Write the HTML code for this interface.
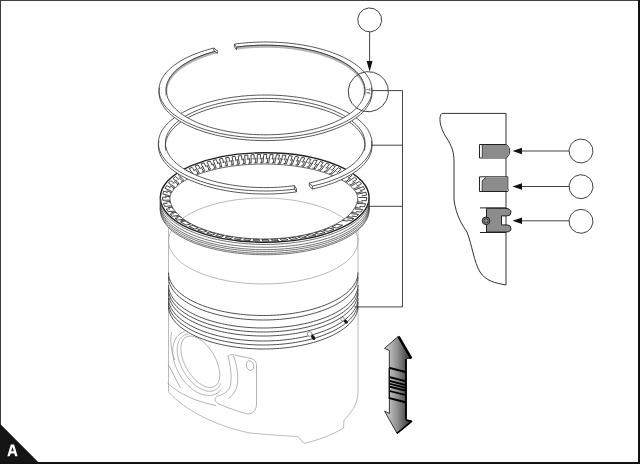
<!DOCTYPE html>
<html><head><meta charset="utf-8">
<style>
html,body{margin:0;padding:0;background:#fff;}
body{width:640px;height:464px;overflow:hidden;position:relative;font-family:"Liberation Sans",sans-serif;}
svg{position:absolute;left:0;top:0;}
</style></head><body>
<svg width="640" height="464" viewBox="0 0 640 464">
<defs>
<linearGradient id="ag" x1="0" y1="0" x2="1" y2="0">
<stop offset="0" stop-color="#d8d8d8"/><stop offset="0.5" stop-color="#8a8a8a"/><stop offset="1" stop-color="#2a2a2a"/>
</linearGradient>
</defs>
<rect x="0" y="0" width="640" height="464" fill="#fff"/>

<g fill="none" stroke="#a8a8a8" stroke-width="0.8">
<ellipse cx="263.25" cy="241" rx="94.75" ry="43"/>
<path d="M168.5,215 L168.5,392"/>
<path d="M358.0,215 L358.0,392 C358.0,405 350,414 344,420 L343.5,428 C330,436 318,440 304,443.5 L298,436.5 C290,436 270,435 250,433 C215,426 185,410 168.5,392"/>
</g>
<g fill="none" stroke="#a0a0a0" stroke-width="0.8">
<path d="M214.72,386.38 L213.53,386.95 L212.24,387.34 L210.86,387.52 L209.40,387.51 L207.87,387.31 L206.28,386.91 L204.64,386.32 L202.98,385.54 L201.29,384.58 L199.59,383.45 L197.90,382.16 L196.23,380.71 L194.59,379.11 L192.99,377.39 L191.45,375.54 L189.98,373.59 L188.58,371.55 L187.28,369.44 L186.07,367.27 L184.97,365.06 L183.99,362.82 L183.13,360.57 L182.40,358.34 L181.81,356.13 L181.36,353.96 L181.05,351.85 L180.89,349.82 L180.88,347.88 L181.02,346.05 L181.30,344.33 L181.73,342.75 L182.29,341.31 L183.00,340.03 L183.84,338.92 L184.80,337.98 L185.88,337.22 L187.07,336.65 L188.36,336.26 L189.74,336.08 L191.20,336.09 L192.73,336.29 L194.32,336.69 L195.96,337.28 L197.62,338.06 L199.31,339.02 L201.01,340.15 L202.70,341.44 L204.37,342.89 L206.01,344.49 L207.61,346.21 L209.15,348.06 L210.62,350.01 L212.02,352.05 L213.32,354.16 L214.53,356.33 L215.63,358.54 L216.61,360.78 L217.47,363.03 L218.20,365.26 L218.79,367.47 L219.24,369.64 L219.55,371.75 L219.71,373.78 L219.72,375.72 L219.58,377.55 L219.30,379.27 L218.87,380.85 L218.31,382.29 L217.60,383.57 L216.76,384.68 L215.80,385.62 L214.72,386.38 Z"/>
<path d="M220.68,383.33 L220.16,384.56 L219.55,385.69 L218.86,386.73 L218.10,387.68 L217.25,388.52 L216.34,389.25 L215.36,389.87 L214.31,390.39 L213.20,390.79 L212.04,391.07 L210.82,391.24 L209.56,391.29 L208.26,391.22 L206.92,391.04 L205.56,390.73 L204.16,390.32 L202.75,389.79 L201.33,389.15 L199.90,388.40 L198.47,387.54 L197.04,386.58 L195.63,385.53 L194.23,384.38 L192.85,383.14 L191.50,381.82 L190.18,380.42 L188.90,378.94 L187.67,377.40 L186.48,375.80 L185.35,374.14 L184.28,372.44 L183.27,370.70 L182.32,368.92 L181.45,367.12 L180.65,365.30 L179.93,363.46 L179.29,361.63 L178.73,359.80 L178.26,357.98 L177.87,356.18 L177.58,354.40 L177.37,352.66 L177.25,350.96 L177.23,349.31 L177.30,347.71 L177.46,346.17 L177.71,344.70 L178.05,343.30 L178.48,341.98 L178.99,340.75 L179.59,339.61 L180.27,338.56 L181.03,337.60 L181.87,336.76 L182.77,336.01 L183.75,335.38 L184.79,334.85 L185.90,334.45 L187.06,334.15 L188.27,333.97"/>
<path d="M221.13,389.41 L220.25,390.49 L219.29,391.46 L218.26,392.34 L217.16,393.11 L215.99,393.78 L214.77,394.34 L213.49,394.79 L212.16,395.12 L210.78,395.35 L209.36,395.45 L207.90,395.45 L206.41,395.32 L204.90,395.09 L203.36,394.74 L201.81,394.28 L200.25,393.71 L198.68,393.03 L197.11,392.24 L195.56,391.35 L194.01,390.36 L192.48,389.27 L190.98,388.09 L189.50,386.83 L188.06,385.48 L186.65,384.05 L185.29,382.54 L183.98,380.97 L182.72,379.33 L181.52,377.64 L180.38,375.89 L179.31,374.10 L178.31,372.27 L177.38,370.41 L176.53,368.52 L175.76,366.62 L175.07,364.70 L174.47,362.78 L173.95,360.85 L173.52,358.94 L173.18,357.04 L172.94,355.17 L172.79,353.32 L172.73,351.51 L172.76,349.73 L172.89,348.01 L173.11,346.34 L173.42,344.73 L173.82,343.19 L174.32,341.72 L174.90,340.32 L175.56,339.00 L176.31,337.78 L177.14,336.64 L178.05,335.59 L179.03,334.65 L180.08,333.80 L181.20,333.06 L182.39,332.43 L183.63,331.91 L184.93,331.49"/>
<path d="M228,356 C230,354 234,354.5 237,355.5 L251,358.5 C255,359.5 256.5,362 256.5,366 L256.5,404 C256.5,410 253,414 247.5,414 C240,412 228,408 219,404 C214,402 214,397 218,396 C224,394 229,392 230.5,385 C232,375 230.5,365 228,356 Z"/>
<path d="M233.5,355.5 C236.5,364 238.5,374 237.5,383 C236.5,391 232,396 228.5,398.5"/>
<ellipse cx="250" cy="365.6" rx="3.6" ry="4.9" transform="rotate(-15 250 365.6)"/>
<path d="M167.5,383 C180,395 198,402 216,405.5"/>
<path d="M168,364 C172,371 176,380 180.5,388"/>
<path d="M171.5,332 C170,342 171,352 175,360"/>
</g>
<g fill="none" stroke="#303030" stroke-width="0.85">
<path d="M358.00,272.50 L357.94,274.00 L357.77,275.50 L357.48,276.99 L357.08,278.48 L356.56,279.97 L355.93,281.44 L355.19,282.90 L354.33,284.35 L353.36,285.79 L352.29,287.21 L351.10,288.61 L349.81,289.99 L348.41,291.35 L346.91,292.69 L345.31,294.00 L343.60,295.29 L341.80,296.55 L339.90,297.77 L337.91,298.97 L335.83,300.14 L333.66,301.27 L331.41,302.37 L329.07,303.43 L326.65,304.46 L324.15,305.44 L321.58,306.38 L318.94,307.29 L316.23,308.15 L313.46,308.97 L310.62,309.74 L307.73,310.47 L304.79,311.15 L301.79,311.78 L298.74,312.37 L295.66,312.91 L292.53,313.40 L289.37,313.83 L286.17,314.22 L282.95,314.56 L279.70,314.85 L276.44,315.08 L273.15,315.26 L269.86,315.40 L266.56,315.47 L263.25,315.50 L259.94,315.47 L256.64,315.40 L253.35,315.26 L250.06,315.08 L246.80,314.85 L243.55,314.56 L240.33,314.22 L237.13,313.83 L233.97,313.40 L230.84,312.91 L227.76,312.37 L224.71,311.78 L221.71,311.15 L218.77,310.47 L215.88,309.74 L213.04,308.97 L210.27,308.15 L207.56,307.29 L204.92,306.38 L202.35,305.44 L199.85,304.46 L197.43,303.43 L195.09,302.37 L192.84,301.27 L190.67,300.14 L188.59,298.97 L186.60,297.77 L184.70,296.55 L182.90,295.29 L181.19,294.00 L179.59,292.69 L178.09,291.35 L176.69,289.99 L175.40,288.61 L174.21,287.21 L173.14,285.79 L172.17,284.35 L171.31,282.90 L170.57,281.44 L169.94,279.97 L169.42,278.48 L169.02,276.99 L168.73,275.50 L168.56,274.00 L168.50,272.50"/>
<path d="M358.00,277.00 L357.94,278.50 L357.77,280.00 L357.48,281.49 L357.08,282.98 L356.56,284.47 L355.93,285.94 L355.19,287.40 L354.33,288.85 L353.36,290.29 L352.29,291.71 L351.10,293.11 L349.81,294.49 L348.41,295.85 L346.91,297.19 L345.31,298.50 L343.60,299.79 L341.80,301.05 L339.90,302.27 L337.91,303.47 L335.83,304.64 L333.66,305.77 L331.41,306.87 L329.07,307.93 L326.65,308.96 L324.15,309.94 L321.58,310.88 L318.94,311.79 L316.23,312.65 L313.46,313.47 L310.62,314.24 L307.73,314.97 L304.79,315.65 L301.79,316.28 L298.74,316.87 L295.66,317.41 L292.53,317.90 L289.37,318.33 L286.17,318.72 L282.95,319.06 L279.70,319.35 L276.44,319.58 L273.15,319.76 L269.86,319.90 L266.56,319.97 L263.25,320.00 L259.94,319.97 L256.64,319.90 L253.35,319.76 L250.06,319.58 L246.80,319.35 L243.55,319.06 L240.33,318.72 L237.13,318.33 L233.97,317.90 L230.84,317.41 L227.76,316.87 L224.71,316.28 L221.71,315.65 L218.77,314.97 L215.88,314.24 L213.04,313.47 L210.27,312.65 L207.56,311.79 L204.92,310.88 L202.35,309.94 L199.85,308.96 L197.43,307.93 L195.09,306.87 L192.84,305.77 L190.67,304.64 L188.59,303.47 L186.60,302.27 L184.70,301.05 L182.90,299.79 L181.19,298.50 L179.59,297.19 L178.09,295.85 L176.69,294.49 L175.40,293.11 L174.21,291.71 L173.14,290.29 L172.17,288.85 L171.31,287.40 L170.57,285.94 L169.94,284.47 L169.42,282.98 L169.02,281.49 L168.73,280.00 L168.56,278.50 L168.50,277.00"/>
<path d="M358.00,285.00 L357.94,286.50 L357.77,288.00 L357.48,289.49 L357.08,290.98 L356.56,292.47 L355.93,293.94 L355.19,295.40 L354.33,296.85 L353.36,298.29 L352.29,299.71 L351.10,301.11 L349.81,302.49 L348.41,303.85 L346.91,305.19 L345.31,306.50 L343.60,307.79 L341.80,309.05 L339.90,310.27 L337.91,311.47 L335.83,312.64 L333.66,313.77 L331.41,314.87 L329.07,315.93 L326.65,316.96 L324.15,317.94 L321.58,318.88 L318.94,319.79 L316.23,320.65 L313.46,321.47 L310.62,322.24 L307.73,322.97 L304.79,323.65 L301.79,324.28 L298.74,324.87 L295.66,325.41 L292.53,325.90 L289.37,326.33 L286.17,326.72 L282.95,327.06 L279.70,327.35 L276.44,327.58 L273.15,327.76 L269.86,327.90 L266.56,327.97 L263.25,328.00 L259.94,327.97 L256.64,327.90 L253.35,327.76 L250.06,327.58 L246.80,327.35 L243.55,327.06 L240.33,326.72 L237.13,326.33 L233.97,325.90 L230.84,325.41 L227.76,324.87 L224.71,324.28 L221.71,323.65 L218.77,322.97 L215.88,322.24 L213.04,321.47 L210.27,320.65 L207.56,319.79 L204.92,318.88 L202.35,317.94 L199.85,316.96 L197.43,315.93 L195.09,314.87 L192.84,313.77 L190.67,312.64 L188.59,311.47 L186.60,310.27 L184.70,309.05 L182.90,307.79 L181.19,306.50 L179.59,305.19 L178.09,303.85 L176.69,302.49 L175.40,301.11 L174.21,299.71 L173.14,298.29 L172.17,296.85 L171.31,295.40 L170.57,293.94 L169.94,292.47 L169.42,290.98 L169.02,289.49 L168.73,288.00 L168.56,286.50 L168.50,285.00"/>
<path d="M358.00,289.00 L357.94,290.50 L357.77,292.00 L357.48,293.49 L357.08,294.98 L356.56,296.47 L355.93,297.94 L355.19,299.40 L354.33,300.85 L353.36,302.29 L352.29,303.71 L351.10,305.11 L349.81,306.49 L348.41,307.85 L346.91,309.19 L345.31,310.50 L343.60,311.79 L341.80,313.05 L339.90,314.27 L337.91,315.47 L335.83,316.64 L333.66,317.77 L331.41,318.87 L329.07,319.93 L326.65,320.96 L324.15,321.94 L321.58,322.88 L318.94,323.79 L316.23,324.65 L313.46,325.47 L310.62,326.24 L307.73,326.97 L304.79,327.65 L301.79,328.28 L298.74,328.87 L295.66,329.41 L292.53,329.90 L289.37,330.33 L286.17,330.72 L282.95,331.06 L279.70,331.35 L276.44,331.58 L273.15,331.76 L269.86,331.90 L266.56,331.97 L263.25,332.00 L259.94,331.97 L256.64,331.90 L253.35,331.76 L250.06,331.58 L246.80,331.35 L243.55,331.06 L240.33,330.72 L237.13,330.33 L233.97,329.90 L230.84,329.41 L227.76,328.87 L224.71,328.28 L221.71,327.65 L218.77,326.97 L215.88,326.24 L213.04,325.47 L210.27,324.65 L207.56,323.79 L204.92,322.88 L202.35,321.94 L199.85,320.96 L197.43,319.93 L195.09,318.87 L192.84,317.77 L190.67,316.64 L188.59,315.47 L186.60,314.27 L184.70,313.05 L182.90,311.79 L181.19,310.50 L179.59,309.19 L178.09,307.85 L176.69,306.49 L175.40,305.11 L174.21,303.71 L173.14,302.29 L172.17,300.85 L171.31,299.40 L170.57,297.94 L169.94,296.47 L169.42,294.98 L169.02,293.49 L168.73,292.00 L168.56,290.50 L168.50,289.00"/>
<path d="M358.00,293.00 L357.94,294.50 L357.77,296.00 L357.48,297.49 L357.08,298.98 L356.56,300.47 L355.93,301.94 L355.19,303.40 L354.33,304.85 L353.36,306.29 L352.29,307.71 L351.10,309.11 L349.81,310.49 L348.41,311.85 L346.91,313.19 L345.31,314.50 L343.60,315.79 L341.80,317.05 L339.90,318.27 L337.91,319.47 L335.83,320.64 L333.66,321.77 L331.41,322.87 L329.07,323.93 L326.65,324.96 L324.15,325.94 L321.58,326.88 L318.94,327.79 L316.23,328.65 L313.46,329.47 L310.62,330.24 L307.73,330.97 L304.79,331.65 L301.79,332.28 L298.74,332.87 L295.66,333.41 L292.53,333.90 L289.37,334.33 L286.17,334.72 L282.95,335.06 L279.70,335.35 L276.44,335.58 L273.15,335.76 L269.86,335.90 L266.56,335.97 L263.25,336.00 L259.94,335.97 L256.64,335.90 L253.35,335.76 L250.06,335.58 L246.80,335.35 L243.55,335.06 L240.33,334.72 L237.13,334.33 L233.97,333.90 L230.84,333.41 L227.76,332.87 L224.71,332.28 L221.71,331.65 L218.77,330.97 L215.88,330.24 L213.04,329.47 L210.27,328.65 L207.56,327.79 L204.92,326.88 L202.35,325.94 L199.85,324.96 L197.43,323.93 L195.09,322.87 L192.84,321.77 L190.67,320.64 L188.59,319.47 L186.60,318.27 L184.70,317.05 L182.90,315.79 L181.19,314.50 L179.59,313.19 L178.09,311.85 L176.69,310.49 L175.40,309.11 L174.21,307.71 L173.14,306.29 L172.17,304.85 L171.31,303.40 L170.57,301.94 L169.94,300.47 L169.42,298.98 L169.02,297.49 L168.73,296.00 L168.56,294.50 L168.50,293.00"/>
<path d="M358.00,298.00 L357.94,299.50 L357.77,301.00 L357.48,302.49 L357.08,303.98 L356.56,305.47 L355.93,306.94 L355.19,308.40 L354.33,309.85 L353.36,311.29 L352.29,312.71 L351.10,314.11 L349.81,315.49 L348.41,316.85 L346.91,318.19 L345.31,319.50 L343.60,320.79 L341.80,322.05 L339.90,323.27 L337.91,324.47 L335.83,325.64 L333.66,326.77 L331.41,327.87 L329.07,328.93 L326.65,329.96 L324.15,330.94 L321.58,331.88 L318.94,332.79 L316.23,333.65 L313.46,334.47 L310.62,335.24 L307.73,335.97 L304.79,336.65 L301.79,337.28 L298.74,337.87 L295.66,338.41 L292.53,338.90 L289.37,339.33 L286.17,339.72 L282.95,340.06 L279.70,340.35 L276.44,340.58 L273.15,340.76 L269.86,340.90 L266.56,340.97 L263.25,341.00 L259.94,340.97 L256.64,340.90 L253.35,340.76 L250.06,340.58 L246.80,340.35 L243.55,340.06 L240.33,339.72 L237.13,339.33 L233.97,338.90 L230.84,338.41 L227.76,337.87 L224.71,337.28 L221.71,336.65 L218.77,335.97 L215.88,335.24 L213.04,334.47 L210.27,333.65 L207.56,332.79 L204.92,331.88 L202.35,330.94 L199.85,329.96 L197.43,328.93 L195.09,327.87 L192.84,326.77 L190.67,325.64 L188.59,324.47 L186.60,323.27 L184.70,322.05 L182.90,320.79 L181.19,319.50 L179.59,318.19 L178.09,316.85 L176.69,315.49 L175.40,314.11 L174.21,312.71 L173.14,311.29 L172.17,309.85 L171.31,308.40 L170.57,306.94 L169.94,305.47 L169.42,303.98 L169.02,302.49 L168.73,301.00 L168.56,299.50 L168.50,298.00"/>
<path d="M358.00,302.00 L357.94,303.50 L357.77,305.00 L357.48,306.49 L357.08,307.98 L356.56,309.47 L355.93,310.94 L355.19,312.40 L354.33,313.85 L353.36,315.29 L352.29,316.71 L351.10,318.11 L349.81,319.49 L348.41,320.85 L346.91,322.19 L345.31,323.50 L343.60,324.79 L341.80,326.05 L339.90,327.27 L337.91,328.47 L335.83,329.64 L333.66,330.77 L331.41,331.87 L329.07,332.93 L326.65,333.96 L324.15,334.94 L321.58,335.88 L318.94,336.79 L316.23,337.65 L313.46,338.47 L310.62,339.24 L307.73,339.97 L304.79,340.65 L301.79,341.28 L298.74,341.87 L295.66,342.41 L292.53,342.90 L289.37,343.33 L286.17,343.72 L282.95,344.06 L279.70,344.35 L276.44,344.58 L273.15,344.76 L269.86,344.90 L266.56,344.97 L263.25,345.00 L259.94,344.97 L256.64,344.90 L253.35,344.76 L250.06,344.58 L246.80,344.35 L243.55,344.06 L240.33,343.72 L237.13,343.33 L233.97,342.90 L230.84,342.41 L227.76,341.87 L224.71,341.28 L221.71,340.65 L218.77,339.97 L215.88,339.24 L213.04,338.47 L210.27,337.65 L207.56,336.79 L204.92,335.88 L202.35,334.94 L199.85,333.96 L197.43,332.93 L195.09,331.87 L192.84,330.77 L190.67,329.64 L188.59,328.47 L186.60,327.27 L184.70,326.05 L182.90,324.79 L181.19,323.50 L179.59,322.19 L178.09,320.85 L176.69,319.49 L175.40,318.11 L174.21,316.71 L173.14,315.29 L172.17,313.85 L171.31,312.40 L170.57,310.94 L169.94,309.47 L169.42,307.98 L169.02,306.49 L168.73,305.00 L168.56,303.50 L168.50,302.00"/>
<path d="M358.00,306.00 L357.94,307.50 L357.77,309.00 L357.48,310.49 L357.08,311.98 L356.56,313.47 L355.93,314.94 L355.19,316.40 L354.33,317.85 L353.36,319.29 L352.29,320.71 L351.10,322.11 L349.81,323.49 L348.41,324.85 L346.91,326.19 L345.31,327.50 L343.60,328.79 L341.80,330.05 L339.90,331.27 L337.91,332.47 L335.83,333.64 L333.66,334.77 L331.41,335.87 L329.07,336.93 L326.65,337.96 L324.15,338.94 L321.58,339.88 L318.94,340.79 L316.23,341.65 L313.46,342.47 L310.62,343.24 L307.73,343.97 L304.79,344.65 L301.79,345.28 L298.74,345.87 L295.66,346.41 L292.53,346.90 L289.37,347.33 L286.17,347.72 L282.95,348.06 L279.70,348.35 L276.44,348.58 L273.15,348.76 L269.86,348.90 L266.56,348.97 L263.25,349.00 L259.94,348.97 L256.64,348.90 L253.35,348.76 L250.06,348.58 L246.80,348.35 L243.55,348.06 L240.33,347.72 L237.13,347.33 L233.97,346.90 L230.84,346.41 L227.76,345.87 L224.71,345.28 L221.71,344.65 L218.77,343.97 L215.88,343.24 L213.04,342.47 L210.27,341.65 L207.56,340.79 L204.92,339.88 L202.35,338.94 L199.85,337.96 L197.43,336.93 L195.09,335.87 L192.84,334.77 L190.67,333.64 L188.59,332.47 L186.60,331.27 L184.70,330.05 L182.90,328.79 L181.19,327.50 L179.59,326.19 L178.09,324.85 L176.69,323.49 L175.40,322.11 L174.21,320.71 L173.14,319.29 L172.17,317.85 L171.31,316.40 L170.57,314.94 L169.94,313.47 L169.42,311.98 L169.02,310.49 L168.73,309.00 L168.56,307.50 L168.50,306.00"/>
</g>
<ellipse cx="313.2" cy="337.4" rx="2.8" ry="1.7" transform="rotate(55 313.2 337.4)" fill="#181818"/><circle cx="309.6" cy="333.9" r="2.3" fill="#fff" stroke="#555" stroke-width="0.6"/>
<ellipse cx="345.8" cy="321.6" rx="2.4" ry="1.5" transform="rotate(45 345.8 321.6)" fill="#181818"/><circle cx="342.6" cy="319.2" r="1.8" fill="#fff" stroke="#555" stroke-width="0.6"/>
<path d="M369.10,197.50 L369.04,211.56 L368.85,213.12 L368.53,214.68 L368.08,216.23 L367.51,217.77 L366.82,219.30 L366.00,220.83 L365.06,222.33 L363.99,223.83 L362.80,225.31 L361.50,226.76 L360.07,228.20 L358.53,229.62 L356.88,231.01 L355.11,232.38 L353.24,233.71 L351.25,235.02 L349.16,236.30 L346.97,237.55 L344.68,238.76 L342.28,239.94 L339.80,241.09 L337.22,242.19 L334.56,243.26 L331.81,244.28 L328.98,245.26 L326.06,246.20 L323.08,247.10 L320.02,247.95 L316.90,248.75 L313.71,249.51 L310.47,250.22 L307.16,250.88 L303.81,251.49 L300.41,252.05 L296.96,252.56 L293.48,253.02 L289.96,253.42 L286.41,253.77 L282.83,254.07 L279.23,254.31 L275.61,254.50 L271.98,254.64 L268.34,254.72 L264.70,254.75 L261.06,254.72 L257.42,254.64 L253.79,254.50 L250.17,254.31 L246.57,254.07 L242.99,253.77 L239.44,253.42 L235.92,253.02 L232.44,252.56 L228.99,252.05 L225.59,251.49 L222.24,250.88 L218.93,250.22 L215.69,249.51 L212.50,248.75 L209.38,247.95 L206.32,247.10 L203.34,246.20 L200.42,245.26 L197.59,244.28 L194.84,243.26 L192.18,242.19 L189.60,241.09 L187.12,239.94 L184.72,238.76 L182.43,237.55 L180.24,236.30 L178.15,235.02 L176.16,233.71 L174.29,232.38 L172.52,231.01 L170.87,229.62 L169.33,228.20 L167.90,226.76 L166.60,225.31 L165.41,223.83 L164.34,222.33 L163.40,220.83 L162.58,219.30 L161.89,217.77 L161.32,216.23 L160.87,214.68 L160.55,213.12 L160.36,211.56 L160.30,210.00 L160.36,195.94 L160.55,194.38 L160.87,192.82 L161.32,191.27 L161.89,189.73 L162.58,188.20 L163.40,186.67 L164.34,185.17 L165.41,183.67 L166.60,182.19 L167.90,180.74 L169.33,179.30 L170.87,177.88 L172.52,176.49 L174.29,175.12 L176.16,173.79 L178.15,172.48 L180.24,171.20 L182.43,169.95 L184.72,168.74 L187.12,167.56 L189.60,166.41 L192.18,165.31 L194.84,164.24 L197.59,163.22 L200.42,162.24 L203.34,161.30 L206.32,160.40 L209.38,159.55 L212.50,158.75 L215.69,157.99 L218.93,157.28 L222.24,156.62 L225.59,156.01 L228.99,155.45 L232.44,154.94 L235.92,154.48 L239.44,154.08 L242.99,153.73 L246.57,153.43 L250.17,153.19 L253.79,153.00 L257.42,152.86 L261.06,152.78 L264.70,152.75 L268.34,152.78 L271.98,152.86 L275.61,153.00 L279.23,153.19 L282.83,153.43 L286.41,153.73 L289.96,154.08 L293.48,154.48 L296.96,154.94 L300.41,155.45 L303.81,156.01 L307.16,156.62 L310.47,157.28 L313.71,157.99 L316.90,158.75 L320.02,159.55 L323.08,160.40 L326.06,161.30 L328.98,162.24 L331.81,163.22 L334.56,164.24 L337.22,165.31 L339.80,166.41 L342.28,167.56 L344.68,168.74 L346.97,169.95 L349.16,171.20 L351.25,172.48 L353.24,173.79 L355.11,175.12 L356.88,176.49 L358.53,177.88 L360.07,179.30 L361.50,180.74 L362.80,182.19 L363.99,183.67 L365.06,185.17 L366.00,186.67 L366.82,188.20 L367.51,189.73 L368.08,191.27 L368.53,192.82 L368.85,194.38 L369.04,195.94 L369.10,197.50 Z M357.70,197.50 L357.64,197.12 L357.47,196.22 L357.19,195.23 L356.79,194.17 L356.27,193.09 L355.65,191.99 L354.91,190.87 L354.06,189.75 L353.10,188.63 L352.04,187.51 L350.86,186.39 L349.58,185.28 L348.20,184.19 L346.71,183.10 L345.12,182.03 L343.43,180.97 L341.65,179.94 L339.77,178.92 L337.79,177.93 L335.73,176.96 L333.58,176.02 L331.35,175.10 L329.03,174.21 L326.63,173.35 L324.16,172.53 L321.61,171.73 L318.99,170.97 L316.31,170.24 L313.56,169.55 L310.75,168.90 L307.88,168.28 L304.96,167.70 L301.99,167.17 L298.98,166.67 L295.92,166.21 L292.82,165.79 L289.68,165.42 L286.52,165.09 L283.32,164.80 L280.11,164.56 L276.87,164.36 L273.62,164.20 L270.35,164.09 L267.08,164.02 L263.80,164.00 L260.52,164.02 L257.25,164.09 L253.98,164.20 L250.73,164.36 L247.49,164.56 L244.28,164.80 L241.08,165.09 L237.92,165.42 L234.78,165.79 L231.68,166.21 L228.62,166.67 L225.61,167.17 L222.64,167.70 L219.72,168.28 L216.85,168.90 L214.04,169.55 L211.29,170.24 L208.61,170.97 L205.99,171.73 L203.44,172.53 L200.97,173.35 L198.57,174.21 L196.25,175.10 L194.02,176.02 L191.87,176.96 L189.81,177.93 L187.83,178.92 L185.95,179.94 L184.17,180.97 L182.48,182.03 L180.89,183.10 L179.40,184.19 L178.02,185.28 L176.74,186.39 L175.56,187.51 L174.50,188.63 L173.54,189.75 L172.69,190.87 L171.95,191.99 L171.33,193.09 L170.81,194.17 L170.41,195.23 L170.13,196.22 L169.96,197.12 L169.90,197.50 L169.96,198.95 L170.13,200.39 L170.41,201.84 L170.81,203.28 L171.33,204.71 L171.95,206.13 L172.69,207.54 L173.54,208.94 L174.50,210.32 L175.56,211.69 L176.74,213.05 L178.02,214.38 L179.40,215.69 L180.89,216.98 L182.48,218.25 L184.17,219.49 L185.95,220.71 L187.83,221.89 L189.81,223.05 L191.87,224.18 L194.02,225.27 L196.25,226.33 L198.57,227.35 L200.97,228.34 L203.44,229.29 L205.99,230.20 L208.61,231.07 L211.29,231.91 L214.04,232.69 L216.85,233.44 L219.72,234.14 L222.64,234.80 L225.61,235.41 L228.62,235.98 L231.68,236.50 L234.78,236.97 L237.92,237.39 L241.08,237.77 L244.28,238.09 L247.49,238.37 L250.73,238.60 L253.98,238.77 L257.25,238.90 L260.52,238.97 L263.80,239.00 L267.08,238.97 L270.35,238.90 L273.62,238.77 L276.87,238.60 L280.11,238.37 L283.32,238.09 L286.52,237.77 L289.68,237.39 L292.82,236.97 L295.92,236.50 L298.98,235.98 L301.99,235.41 L304.96,234.80 L307.88,234.14 L310.75,233.44 L313.56,232.69 L316.31,231.91 L318.99,231.07 L321.61,230.20 L324.16,229.29 L326.63,228.34 L329.03,227.35 L331.35,226.33 L333.58,225.27 L335.73,224.18 L337.79,223.05 L339.77,221.89 L341.65,220.71 L343.43,219.49 L345.12,218.25 L346.71,216.98 L348.20,215.69 L349.58,214.38 L350.86,213.05 L352.04,211.69 L353.10,210.32 L354.06,208.94 L354.91,207.54 L355.65,206.13 L356.27,204.71 L356.79,203.28 L357.19,201.84 L357.47,200.39 L357.64,198.95 L357.70,197.50 Z" fill="#fff" fill-rule="evenodd" stroke="none"/>
<path d="M358.47,197.50 L366.74,197.50 L366.47,200.69 L361.54,200.62 M358.22,200.57 L357.49,203.53 M357.91,202.05 L363.11,202.17 M357.49,203.53 L365.68,203.78 L364.42,206.74 L359.58,206.53 M356.32,206.38 L354.83,209.02 M355.62,207.71 L360.71,207.97 M354.83,209.02 L362.80,209.49 L360.92,212.01 L356.23,211.67 M353.08,211.44 L351.08,213.74 M352.12,212.60 L357.03,212.98 M351.08,213.74 L358.76,214.39 L356.47,216.56 L351.98,216.11 M348.96,215.81 L346.67,217.76 M347.84,216.79 L352.54,217.29 M346.67,217.76 L354.01,218.58 L351.41,220.47 L347.14,219.94 M344.27,219.58 L341.78,221.27 M343.05,220.43 L347.50,221.02 M342.64,225.27 L336.94,227.97 L331.67,226.95 L337.01,224.34 Z M334.05,229.18 L328.12,231.39 L323.40,230.25 L328.96,228.11 Z M325.09,232.39 L318.96,234.19 L314.83,232.96 L320.57,231.21 Z M315.87,235.00 L309.89,236.38 L306.34,235.08 L311.94,233.74 Z M306.63,237.05 L300.55,238.14 L297.58,236.77 L303.28,235.72 Z M297.35,238.63 L291.04,239.45 L288.69,238.04 L294.59,237.25 Z M287.95,239.79 L281.70,240.33 L279.94,238.89 L285.79,238.37 Z M278.55,240.54 L272.21,240.83 L271.05,239.38 L276.99,239.09 Z M269.03,240.92 L262.65,240.95 L262.10,239.49 L268.07,239.45 Z M259.46,240.90 L253.32,240.69 L253.36,239.24 L259.11,239.44 Z M250.16,240.52 L243.88,240.05 L244.52,238.61 L250.40,239.07 Z M240.56,239.72 L234.41,239.00 L235.65,237.60 L241.41,238.30 Z M231.18,238.54 L225.03,237.53 L226.87,236.18 L232.63,237.16 Z M221.92,236.94 L215.66,235.58 L218.09,234.30 L223.96,235.61 Z M212.71,234.86 L206.63,233.19 L209.64,231.98 L215.33,233.60 Z M203.53,232.22 L197.59,230.16 L201.18,229.06 L206.73,231.06 Z M194.61,228.99 L188.84,226.44 L192.98,225.47 L198.38,227.93 Z M186.08,225.06 L180.49,221.85 L185.16,221.03 L190.39,224.13 Z M185.47,220.98 L183.00,219.28 M184.21,220.13 L180.73,220.71 M183.00,219.28 L177.40,220.16 L174.94,218.34 L178.40,217.86 M180.73,217.53 L178.39,215.50 M179.53,216.52 L175.81,217.01 M178.39,215.50 L172.42,216.23 L170.17,214.06 L173.84,213.67 M176.30,213.41 L174.35,211.11 M175.29,212.27 L171.36,212.65 M174.35,211.11 L168.06,211.66 L166.22,209.14 L170.06,208.86 M172.65,208.68 L171.16,205.95 M171.85,207.32 L167.75,207.57 M171.16,205.95 L164.62,206.30 L163.46,203.42 L167.42,203.28 M170.09,203.19 L169.40,200.13 M169.68,201.66 L165.47,201.77 M169.40,200.13 L162.72,200.24 L162.52,197.17 L166.52,197.40 M169.22,197.55 L169.53,195.67 M169.31,196.72 L165.08,196.03 M169.53,195.67 L162.86,194.08 L163.71,191.05 L167.66,192.47 M170.32,193.42 L171.49,191.22 M170.85,192.33 L166.70,190.63 M171.49,191.22 L164.98,188.23 L166.63,185.53 L170.45,187.64 M173.03,189.05 L174.81,187.03 M173.88,188.04 L169.88,185.66 M174.81,187.03 L168.55,183.05 L170.75,180.70 L174.39,183.32 M176.84,185.09 L179.00,183.32 M177.89,184.20 L174.09,181.31 M179.00,183.32 L173.07,178.57 L175.56,176.57 L178.99,179.60 M181.30,181.65 L183.73,180.08 M182.49,180.86 L178.92,177.55 M183.73,180.08 L178.18,174.71 L180.78,173.05 L183.98,176.41 M186.14,178.68 L188.71,177.31 M187.40,177.99 L184.08,174.35 M188.71,177.31 L183.55,171.44 L186.36,169.96 L189.32,173.60 M191.31,176.05 L193.92,174.89 M192.60,175.47 L189.53,171.55 M193.92,174.89 L189.17,168.60 L192.12,167.29 L194.83,171.16 M196.65,173.77 L199.36,172.75 M197.99,173.25 L195.19,169.10 M199.36,172.75 L195.04,166.09 L198.07,164.95 L200.51,169.02 M202.16,171.76 L204.91,170.87 M203.53,171.31 L201.01,166.96 M204.91,170.87 L201.03,163.91 L204.09,162.92 L206.27,167.16 M207.74,170.02 L210.49,169.25 M209.11,169.63 L206.87,165.10 M210.49,169.25 L207.06,162.03 L210.28,161.14 L212.19,165.53 M213.47,168.48 L216.19,167.83 M214.82,168.15 L212.87,163.48 M216.19,167.83 L213.20,160.39 L216.37,159.64 L218.02,164.15 M219.13,167.18 L221.95,166.61 M220.53,166.89 L218.86,162.09 M221.95,166.61 L219.42,158.97 L222.51,158.35 L223.89,162.97 M224.81,166.07 L227.72,165.57 M226.26,165.82 L224.88,160.91 M227.72,165.57 L225.65,157.78 L228.83,157.25 L229.93,161.95 M230.67,165.11 L233.66,164.69 M232.16,164.90 L231.07,159.90 M233.66,164.69 L232.06,156.76 L235.11,156.35 L235.94,161.12 M236.49,164.33 L239.35,164.01 M237.92,164.17 L237.12,159.10 M239.35,164.01 L238.20,155.98 L241.52,155.63 L242.06,160.45 M242.43,163.70 L245.34,163.45 M243.88,163.57 L243.38,158.46 M245.34,163.45 L244.65,155.34 L247.81,155.10 L248.08,159.96 M248.26,163.24 L251.20,163.06 M249.73,163.15 L249.52,157.99 M251.20,163.06 L250.98,154.89 L254.17,154.73 L254.16,159.63 M254.15,162.93 L257.11,162.82 M255.63,162.87 L255.71,157.69 M257.11,162.82 L257.36,154.62 L260.57,154.54 L260.28,159.45 M260.08,162.76 L263.05,162.73 M261.57,162.74 L261.95,157.54 M263.05,162.73 L263.77,154.51 L266.77,154.52 L266.20,159.43 M265.83,162.74 L268.80,162.78 M267.31,162.75 L267.98,157.56 M268.80,162.78 L269.97,154.57 L273.17,154.66 L272.33,159.56 M271.76,162.86 L274.72,162.98 M273.24,162.91 L274.21,157.73 M274.72,162.98 L276.36,154.79 L279.54,154.97 L278.42,159.85 M277.67,163.13 L280.60,163.32 M279.14,163.22 L280.40,158.07 M280.60,163.32 L282.71,155.19 L285.86,155.45 L284.46,160.29 M283.52,163.55 L286.42,163.81 M284.97,163.68 L286.52,158.57 M286.42,163.81 L288.99,155.75 L292.29,156.12 L290.61,160.91 M289.48,164.13 L292.33,164.47 M290.91,164.30 L292.76,159.25 M292.33,164.47 L295.37,156.51 L298.61,156.97 L296.66,161.69 M295.34,164.87 L298.13,165.28 M296.74,165.07 L298.88,160.10 M298.13,165.28 L301.62,157.44 L304.79,157.99 L302.56,162.63 M301.06,165.75 L303.96,166.27 M302.52,166.01 L304.94,161.12 M303.96,166.27 L307.91,158.58 L310.99,159.22 L308.49,163.76 M306.81,166.82 L309.78,167.44 M308.30,167.13 L311.02,162.35 M309.78,167.44 L314.20,159.94 L317.16,160.66 L314.39,165.09 M312.53,168.07 L315.38,168.77 M313.96,168.42 L316.96,163.77 M315.38,168.77 L320.24,161.48 L323.26,162.34 L320.22,166.63 M318.18,169.52 L321.06,170.34 M319.63,169.92 L322.91,165.43 M321.06,170.34 L326.36,163.30 L329.39,164.31 L326.08,168.43 M323.86,171.21 L326.57,172.12 M325.23,171.66 L328.79,167.34 M326.57,172.12 L332.32,165.36 L335.30,166.53 L331.74,170.47 M329.34,173.12 L332.01,174.16 M330.69,173.63 L334.52,169.52 M332.01,174.16 L338.18,167.74 L341.08,169.07 L337.27,172.79 M334.70,175.29 L337.39,176.53 M336.06,175.91 L340.16,172.04 M337.39,176.53 L343.98,170.52 L346.73,172.02 L342.67,175.48 M339.93,177.81 L342.44,179.18 M341.21,178.49 L345.57,174.91 M342.44,179.18 L349.44,173.65 L352.08,175.40 L347.78,178.55 M344.89,180.66 L347.24,182.25 M346.09,181.45 L350.70,178.22 M347.24,182.25 L354.62,177.28 L357.02,179.30 L352.51,182.07 M349.47,183.93 L351.61,185.78 M350.57,184.85 L355.40,182.04 M351.61,185.78 L359.33,181.53 L361.41,183.90 L356.70,186.19 M353.53,187.73 L355.25,189.82 M354.44,188.77 L359.46,186.50 M355.25,189.82 L363.26,186.48 L364.77,189.20 L359.91,190.86 M356.65,191.98 L357.70,194.23 M357.23,193.12 L362.39,191.56 M357.70,194.23 L365.91,192.12 L366.58,195.14 L361.64,195.90" fill="none" stroke="#333" stroke-width="0.9"/>
<path d="M165.75,197.50 L165.81,196.51 L165.99,195.28 L166.29,194.00 L166.71,192.70 L167.25,191.38 L167.90,190.07 L168.68,188.75 L169.57,187.44 L170.57,186.14 L171.69,184.84 L172.92,183.56 L174.27,182.29 L175.72,181.03 L177.28,179.80 L178.95,178.59 L180.72,177.39 L182.59,176.23 L184.56,175.08 L186.63,173.97 L188.79,172.88 L191.05,171.82 L193.40,170.80 L195.83,169.81 L198.34,168.85 L200.94,167.93 L203.61,167.04 L206.35,166.20 L209.17,165.39 L212.05,164.62 L215.00,163.90 L218.01,163.21 L221.07,162.57 L224.19,161.98 L227.35,161.42 L230.56,160.92 L233.81,160.46 L237.10,160.04 L240.42,159.68 L243.77,159.36 L247.15,159.09 L250.54,158.87 L253.95,158.70 L257.38,158.57 L260.81,158.50 L264.25,158.47 L267.69,158.50 L271.12,158.57 L274.55,158.70 L277.96,158.87 L281.35,159.09 L284.73,159.36 L288.08,159.68 L291.40,160.04 L294.69,160.46 L297.94,160.92 L301.15,161.42 L304.31,161.98 L307.43,162.57 L310.49,163.21 L313.50,163.90 L316.45,164.62 L319.33,165.39 L322.15,166.20 L324.89,167.04 L327.56,167.93 L330.16,168.85 L332.67,169.81 L335.10,170.80 L337.45,171.82 L339.71,172.88 L341.87,173.97 L343.94,175.08 L345.91,176.23 L347.78,177.39 L349.55,178.59 L351.22,179.80 L352.78,181.03 L354.23,182.29 L355.58,183.56 L356.81,184.84 L357.93,186.14 L358.93,187.44 L359.82,188.75 L360.60,190.07 L361.25,191.38 L361.79,192.70 L362.21,194.00 L362.51,195.28 L362.69,196.51 L362.75,197.50" fill="none" stroke="#555" stroke-width="0.7" stroke-dasharray="2 3" stroke-dashoffset="0"/>
<g fill="none" stroke="#3a3a3a" stroke-width="0.8">
<ellipse cx="264.7" cy="197.5" rx="104.4" ry="44.75" stroke-width="1.4" stroke="#222"/>
<path d="M357.70,197.50 L357.64,198.95 L357.47,200.39 L357.19,201.84 L356.79,203.28 L356.27,204.71 L355.65,206.13 L354.91,207.54 L354.06,208.94 L353.10,210.32 L352.04,211.69 L350.86,213.05 L349.58,214.38 L348.20,215.69 L346.71,216.98 L345.12,218.25 L343.43,219.49 L341.65,220.71 L339.77,221.89 L337.79,223.05 L335.73,224.18 L333.58,225.27 L331.35,226.33 L329.03,227.35 L326.63,228.34 L324.16,229.29 L321.61,230.20 L318.99,231.07 L316.31,231.91 L313.56,232.69 L310.75,233.44 L307.88,234.14 L304.96,234.80 L301.99,235.41 L298.98,235.98 L295.92,236.50 L292.82,236.97 L289.68,237.39 L286.52,237.77 L283.32,238.09 L280.11,238.37 L276.87,238.60 L273.62,238.77 L270.35,238.90 L267.08,238.97 L263.80,239.00 L260.52,238.97 L257.25,238.90 L253.98,238.77 L250.73,238.60 L247.49,238.37 L244.28,238.09 L241.08,237.77 L237.92,237.39 L234.78,236.97 L231.68,236.50 L228.62,235.98 L225.61,235.41 L222.64,234.80 L219.72,234.14 L216.85,233.44 L214.04,232.69 L211.29,231.91 L208.61,231.07 L205.99,230.20 L203.44,229.29 L200.97,228.34 L198.57,227.35 L196.25,226.33 L194.02,225.27 L191.87,224.18 L189.81,223.05 L187.83,221.89 L185.95,220.71 L184.17,219.49 L182.48,218.25 L180.89,216.98 L179.40,215.69 L178.02,214.38 L176.74,213.05 L175.56,211.69 L174.50,210.32 L173.54,208.94 L172.69,207.54 L171.95,206.13 L171.33,204.71 L170.81,203.28 L170.41,201.84 L170.13,200.39 L169.96,198.95 L169.90,197.50 L169.96,197.12 L170.13,196.22 L170.41,195.23 L170.81,194.17 L171.33,193.09 L171.95,191.99 L172.69,190.87 L173.54,189.75 L174.50,188.63 L175.56,187.51 L176.74,186.39 L178.02,185.28 L179.40,184.19 L180.89,183.10 L182.48,182.03 L184.17,180.97 L185.95,179.94 L187.83,178.92 L189.81,177.93 L191.87,176.96 L194.02,176.02 L196.25,175.10 L198.57,174.21 L200.97,173.35 L203.44,172.53 L205.99,171.73 L208.61,170.97 L211.29,170.24 L214.04,169.55 L216.85,168.90 L219.72,168.28 L222.64,167.70 L225.61,167.17 L228.62,166.67 L231.68,166.21 L234.78,165.79 L237.92,165.42 L241.08,165.09 L244.28,164.80 L247.49,164.56 L250.73,164.36 L253.98,164.20 L257.25,164.09 L260.52,164.02 L263.80,164.00 L267.08,164.02 L270.35,164.09 L273.62,164.20 L276.87,164.36 L280.11,164.56 L283.32,164.80 L286.52,165.09 L289.68,165.42 L292.82,165.79 L295.92,166.21 L298.98,166.67 L301.99,167.17 L304.96,167.70 L307.88,168.28 L310.75,168.90 L313.56,169.55 L316.31,170.24 L318.99,170.97 L321.61,171.73 L324.16,172.53 L326.63,173.35 L329.03,174.21 L331.35,175.10 L333.58,176.02 L335.73,176.96 L337.79,177.93 L339.77,178.92 L341.65,179.94 L343.43,180.97 L345.12,182.03 L346.71,183.10 L348.20,184.19 L349.58,185.28 L350.86,186.39 L352.04,187.51 L353.10,188.63 L354.06,189.75 L354.91,190.87 L355.65,191.99 L356.27,193.09 L356.79,194.17 L357.19,195.23 L357.47,196.22 L357.64,197.12 L357.70,197.50 Z"/>
</g>
<g fill="none" stroke="#474747" stroke-width="0.75">
<path d="M368.96,197.36 L369.08,198.92 L369.08,200.48 L368.96,202.04 L368.70,203.60 L368.32,205.15 L367.81,206.70 L367.18,208.24 L366.42,209.77 L365.54,211.28 L364.54,212.78 L363.41,214.27 L362.17,215.74 L360.80,217.19 L359.32,218.61 L357.72,220.02 L356.01,221.40 L354.19,222.75 L352.26,224.07 L350.22,225.37 L348.08,226.63 L345.83,227.86 L343.49,229.06 L341.05,230.22 L338.52,231.34 L335.90,232.43 L333.19,233.47 L330.40,234.48 L327.53,235.44 L324.58,236.36 L321.56,237.23 L318.47,238.06 L315.31,238.84 L312.10,239.57 L308.82,240.26 L305.49,240.89 L302.11,241.48 L298.69,242.01 L295.22,242.49 L291.72,242.93 L288.18,243.30 L284.62,243.63 L281.03,243.90 L277.42,244.12 L273.80,244.28 L270.16,244.39 L266.52,244.44 L262.88,244.44 L259.24,244.39 L255.60,244.28 L251.98,244.12 L248.37,243.90 L244.78,243.63 L241.22,243.30 L237.68,242.93 L234.18,242.49 L230.71,242.01 L227.29,241.48 L223.91,240.89 L220.58,240.26 L217.30,239.57 L214.09,238.84 L210.93,238.06 L207.84,237.23 L204.82,236.36 L201.87,235.44 L199.00,234.48 L196.21,233.47 L193.50,232.43 L190.88,231.34 L188.35,230.22 L185.91,229.06 L183.57,227.86 L181.32,226.63 L179.18,225.37 L177.14,224.07 L175.21,222.75 L173.39,221.40 L171.68,220.02 L170.08,218.61 L168.60,217.19 L167.23,215.74 L165.99,214.27 L164.86,212.78 L163.86,211.28 L162.98,209.77 L162.22,208.24 L161.59,206.70 L161.08,205.15 L160.70,203.60 L160.44,202.04 L160.32,200.48 L160.32,198.92 L160.44,197.36"/>
<path d="M368.96,200.16 L369.08,201.72 L369.08,203.28 L368.96,204.84 L368.70,206.40 L368.32,207.95 L367.81,209.50 L367.18,211.04 L366.42,212.57 L365.54,214.08 L364.54,215.58 L363.41,217.07 L362.17,218.54 L360.80,219.99 L359.32,221.41 L357.72,222.82 L356.01,224.20 L354.19,225.55 L352.26,226.87 L350.22,228.17 L348.08,229.43 L345.83,230.66 L343.49,231.86 L341.05,233.02 L338.52,234.14 L335.90,235.23 L333.19,236.27 L330.40,237.28 L327.53,238.24 L324.58,239.16 L321.56,240.03 L318.47,240.86 L315.31,241.64 L312.10,242.37 L308.82,243.06 L305.49,243.69 L302.11,244.28 L298.69,244.81 L295.22,245.29 L291.72,245.73 L288.18,246.10 L284.62,246.43 L281.03,246.70 L277.42,246.92 L273.80,247.08 L270.16,247.19 L266.52,247.24 L262.88,247.24 L259.24,247.19 L255.60,247.08 L251.98,246.92 L248.37,246.70 L244.78,246.43 L241.22,246.10 L237.68,245.73 L234.18,245.29 L230.71,244.81 L227.29,244.28 L223.91,243.69 L220.58,243.06 L217.30,242.37 L214.09,241.64 L210.93,240.86 L207.84,240.03 L204.82,239.16 L201.87,238.24 L199.00,237.28 L196.21,236.27 L193.50,235.23 L190.88,234.14 L188.35,233.02 L185.91,231.86 L183.57,230.66 L181.32,229.43 L179.18,228.17 L177.14,226.87 L175.21,225.55 L173.39,224.20 L171.68,222.82 L170.08,221.41 L168.60,219.99 L167.23,218.54 L165.99,217.07 L164.86,215.58 L163.86,214.08 L162.98,212.57 L162.22,211.04 L161.59,209.50 L161.08,207.95 L160.70,206.40 L160.44,204.84 L160.32,203.28 L160.32,201.72 L160.44,200.16"/>
<path d="M368.96,202.56 L369.08,204.12 L369.08,205.68 L368.96,207.24 L368.70,208.80 L368.32,210.35 L367.81,211.90 L367.18,213.44 L366.42,214.97 L365.54,216.48 L364.54,217.98 L363.41,219.47 L362.17,220.94 L360.80,222.39 L359.32,223.81 L357.72,225.22 L356.01,226.60 L354.19,227.95 L352.26,229.27 L350.22,230.57 L348.08,231.83 L345.83,233.06 L343.49,234.26 L341.05,235.42 L338.52,236.54 L335.90,237.63 L333.19,238.67 L330.40,239.68 L327.53,240.64 L324.58,241.56 L321.56,242.43 L318.47,243.26 L315.31,244.04 L312.10,244.77 L308.82,245.46 L305.49,246.09 L302.11,246.68 L298.69,247.21 L295.22,247.69 L291.72,248.13 L288.18,248.50 L284.62,248.83 L281.03,249.10 L277.42,249.32 L273.80,249.48 L270.16,249.59 L266.52,249.64 L262.88,249.64 L259.24,249.59 L255.60,249.48 L251.98,249.32 L248.37,249.10 L244.78,248.83 L241.22,248.50 L237.68,248.13 L234.18,247.69 L230.71,247.21 L227.29,246.68 L223.91,246.09 L220.58,245.46 L217.30,244.77 L214.09,244.04 L210.93,243.26 L207.84,242.43 L204.82,241.56 L201.87,240.64 L199.00,239.68 L196.21,238.67 L193.50,237.63 L190.88,236.54 L188.35,235.42 L185.91,234.26 L183.57,233.06 L181.32,231.83 L179.18,230.57 L177.14,229.27 L175.21,227.95 L173.39,226.60 L171.68,225.22 L170.08,223.81 L168.60,222.39 L167.23,220.94 L165.99,219.47 L164.86,217.98 L163.86,216.48 L162.98,214.97 L162.22,213.44 L161.59,211.90 L161.08,210.35 L160.70,208.80 L160.44,207.24 L160.32,205.68 L160.32,204.12 L160.44,202.56"/>
<path d="M368.96,204.36 L369.08,205.92 L369.08,207.48 L368.96,209.04 L368.70,210.60 L368.32,212.15 L367.81,213.70 L367.18,215.24 L366.42,216.77 L365.54,218.28 L364.54,219.78 L363.41,221.27 L362.17,222.74 L360.80,224.19 L359.32,225.61 L357.72,227.02 L356.01,228.40 L354.19,229.75 L352.26,231.07 L350.22,232.37 L348.08,233.63 L345.83,234.86 L343.49,236.06 L341.05,237.22 L338.52,238.34 L335.90,239.43 L333.19,240.47 L330.40,241.48 L327.53,242.44 L324.58,243.36 L321.56,244.23 L318.47,245.06 L315.31,245.84 L312.10,246.57 L308.82,247.26 L305.49,247.89 L302.11,248.48 L298.69,249.01 L295.22,249.49 L291.72,249.93 L288.18,250.30 L284.62,250.63 L281.03,250.90 L277.42,251.12 L273.80,251.28 L270.16,251.39 L266.52,251.44 L262.88,251.44 L259.24,251.39 L255.60,251.28 L251.98,251.12 L248.37,250.90 L244.78,250.63 L241.22,250.30 L237.68,249.93 L234.18,249.49 L230.71,249.01 L227.29,248.48 L223.91,247.89 L220.58,247.26 L217.30,246.57 L214.09,245.84 L210.93,245.06 L207.84,244.23 L204.82,243.36 L201.87,242.44 L199.00,241.48 L196.21,240.47 L193.50,239.43 L190.88,238.34 L188.35,237.22 L185.91,236.06 L183.57,234.86 L181.32,233.63 L179.18,232.37 L177.14,231.07 L175.21,229.75 L173.39,228.40 L171.68,227.02 L170.08,225.61 L168.60,224.19 L167.23,222.74 L165.99,221.27 L164.86,219.78 L163.86,218.28 L162.98,216.77 L162.22,215.24 L161.59,213.70 L161.08,212.15 L160.70,210.60 L160.44,209.04 L160.32,207.48 L160.32,205.92 L160.44,204.36"/>
<path d="M368.96,206.26 L369.08,207.82 L369.08,209.38 L368.96,210.94 L368.70,212.50 L368.32,214.05 L367.81,215.60 L367.18,217.14 L366.42,218.67 L365.54,220.18 L364.54,221.68 L363.41,223.17 L362.17,224.64 L360.80,226.09 L359.32,227.51 L357.72,228.92 L356.01,230.30 L354.19,231.65 L352.26,232.97 L350.22,234.27 L348.08,235.53 L345.83,236.76 L343.49,237.96 L341.05,239.12 L338.52,240.24 L335.90,241.33 L333.19,242.37 L330.40,243.38 L327.53,244.34 L324.58,245.26 L321.56,246.13 L318.47,246.96 L315.31,247.74 L312.10,248.47 L308.82,249.16 L305.49,249.79 L302.11,250.38 L298.69,250.91 L295.22,251.39 L291.72,251.83 L288.18,252.20 L284.62,252.53 L281.03,252.80 L277.42,253.02 L273.80,253.18 L270.16,253.29 L266.52,253.34 L262.88,253.34 L259.24,253.29 L255.60,253.18 L251.98,253.02 L248.37,252.80 L244.78,252.53 L241.22,252.20 L237.68,251.83 L234.18,251.39 L230.71,250.91 L227.29,250.38 L223.91,249.79 L220.58,249.16 L217.30,248.47 L214.09,247.74 L210.93,246.96 L207.84,246.13 L204.82,245.26 L201.87,244.34 L199.00,243.38 L196.21,242.37 L193.50,241.33 L190.88,240.24 L188.35,239.12 L185.91,237.96 L183.57,236.76 L181.32,235.53 L179.18,234.27 L177.14,232.97 L175.21,231.65 L173.39,230.30 L171.68,228.92 L170.08,227.51 L168.60,226.09 L167.23,224.64 L165.99,223.17 L164.86,221.68 L163.86,220.18 L162.98,218.67 L162.22,217.14 L161.59,215.60 L161.08,214.05 L160.70,212.50 L160.44,210.94 L160.32,209.38 L160.32,207.82 L160.44,206.26"/>
<path d="M368.96,207.66 L369.08,209.22 L369.08,210.78 L368.96,212.34 L368.70,213.90 L368.32,215.45 L367.81,217.00 L367.18,218.54 L366.42,220.07 L365.54,221.58 L364.54,223.08 L363.41,224.57 L362.17,226.04 L360.80,227.49 L359.32,228.91 L357.72,230.32 L356.01,231.70 L354.19,233.05 L352.26,234.37 L350.22,235.67 L348.08,236.93 L345.83,238.16 L343.49,239.36 L341.05,240.52 L338.52,241.64 L335.90,242.73 L333.19,243.77 L330.40,244.78 L327.53,245.74 L324.58,246.66 L321.56,247.53 L318.47,248.36 L315.31,249.14 L312.10,249.87 L308.82,250.56 L305.49,251.19 L302.11,251.78 L298.69,252.31 L295.22,252.79 L291.72,253.23 L288.18,253.60 L284.62,253.93 L281.03,254.20 L277.42,254.42 L273.80,254.58 L270.16,254.69 L266.52,254.74 L262.88,254.74 L259.24,254.69 L255.60,254.58 L251.98,254.42 L248.37,254.20 L244.78,253.93 L241.22,253.60 L237.68,253.23 L234.18,252.79 L230.71,252.31 L227.29,251.78 L223.91,251.19 L220.58,250.56 L217.30,249.87 L214.09,249.14 L210.93,248.36 L207.84,247.53 L204.82,246.66 L201.87,245.74 L199.00,244.78 L196.21,243.77 L193.50,242.73 L190.88,241.64 L188.35,240.52 L185.91,239.36 L183.57,238.16 L181.32,236.93 L179.18,235.67 L177.14,234.37 L175.21,233.05 L173.39,231.70 L171.68,230.32 L170.08,228.91 L168.60,227.49 L167.23,226.04 L165.99,224.57 L164.86,223.08 L163.86,221.58 L162.98,220.07 L162.22,218.54 L161.59,217.00 L161.08,215.45 L160.70,213.90 L160.44,212.34 L160.32,210.78 L160.32,209.22 L160.44,207.66"/>
<path d="M160.30,197.50 L160.30,210.00 M369.10,197.50 L369.10,210.00"/>
</g>
<path d="M296.43,191.90 L292.83,192.37 L289.21,192.77 L285.55,193.12 L281.87,193.41 L278.17,193.64 L274.46,193.82 L270.73,193.94 L267.00,193.99 L263.26,193.99 L259.53,193.93 L255.80,193.81 L252.08,193.64 L248.38,193.40 L244.70,193.11 L241.05,192.76 L237.43,192.35 L233.84,191.88 L230.28,191.36 L226.78,190.79 L223.31,190.15 L219.90,189.47 L216.55,188.73 L213.25,187.94 L210.02,187.10 L206.85,186.20 L203.76,185.26 L200.74,184.27 L197.80,183.24 L194.95,182.15 L192.18,181.03 L189.49,179.86 L186.91,178.65 L184.41,177.40 L182.02,176.11 L179.73,174.78 L177.54,173.42 L175.46,172.02 L173.49,170.60 L171.63,169.14 L169.89,167.65 L168.26,166.14 L166.75,164.61 L165.36,163.05 L164.10,161.47 L162.96,159.87 L161.94,158.25 L161.05,156.62 L160.28,154.98 L159.65,153.32 L159.14,151.66 L158.77,149.99 L158.52,148.31 L158.41,146.63 L158.43,141.96 L158.57,140.28 L158.85,138.60 L159.26,136.93 L159.79,135.27 L160.46,133.62 L161.25,131.98 L162.17,130.35 L163.22,128.74 L164.39,127.14 L165.69,125.57 L167.11,124.02 L168.65,122.49 L170.30,120.98 L172.07,119.50 L173.96,118.05 L175.96,116.63 L178.06,115.25 L180.28,113.89 L182.59,112.58 L185.01,111.30 L187.53,110.05 L190.14,108.85 L192.84,107.69 L195.64,106.58 L198.51,105.51 L201.47,104.48 L204.51,103.50 L207.62,102.57 L210.80,101.69 L214.05,100.86 L217.36,100.08 L220.73,99.36 L224.15,98.69 L227.63,98.07 L231.15,97.51 L234.71,97.00 L238.31,96.55 L241.94,96.15 L245.60,95.82 L249.28,95.54 L252.99,95.31 L256.71,95.15 L260.44,95.05 L264.17,95.00 L267.91,95.02 L271.64,95.09 L275.37,95.22 L279.08,95.41 L282.77,95.65 L286.45,95.96 L290.10,96.32 L293.71,96.74 L297.30,97.22 L300.84,97.75 L304.34,98.34 L307.79,98.98 L311.19,99.68 L314.53,100.43 L317.82,101.23 L321.04,102.08 L324.19,102.99 L327.27,103.94 L330.27,104.94 L333.19,105.98 L336.03,107.07 L338.78,108.21 L341.44,109.39 L344.01,110.61 L346.49,111.87 L348.86,113.16 L351.13,114.50 L353.30,115.86 L355.35,117.27 L357.30,118.70 L359.14,120.16 L360.86,121.65 L362.46,123.17 L363.94,124.71 L365.31,126.27 L366.55,127.86 L367.66,129.46 L368.65,131.08 L369.52,132.71 L370.26,134.36 L370.86,136.02 L371.34,137.68 L371.69,139.35 L371.91,141.03 L372.00,142.71 L371.96,147.39 L371.78,149.07 L371.48,150.74 L371.04,152.41 L370.48,154.07 L369.79,155.72 L368.97,157.36 L368.02,158.98 L366.95,160.59 L365.75,162.18 L364.43,163.75 L362.99,165.30 L361.42,166.83 L359.74,168.33 L357.95,169.80 L356.04,171.24 L354.02,172.65 L351.89,174.03 L349.66,175.38 L347.32,176.69 L344.88,177.96 L342.34,179.20 L339.71,180.39 L336.99,181.54 L334.18,182.64 L331.29,183.71 L328.31,184.72 L325.26,185.69 L322.13,186.61 L318.94,187.48 L315.68,188.30 L312.35,189.07 L309.26,183.02 L312.37,182.30 L315.42,181.54 L318.40,180.73 L321.32,179.88 L324.17,178.98 L326.95,178.04 L329.66,177.05 L332.28,176.02 L334.83,174.95 L337.29,173.84 L339.66,172.70 L341.94,171.52 L344.12,170.30 L346.21,169.05 L348.20,167.77 L350.09,166.45 L351.87,165.11 L353.55,163.74 L355.12,162.35 L356.58,160.93 L357.92,159.49 L359.16,158.03 L360.28,156.56 L361.28,155.06 L362.17,153.55 L362.93,152.03 L363.58,150.50 L364.11,148.95 L364.51,147.40 L364.80,145.85 L364.96,144.29 L365.00,145.73 L364.92,144.17 L364.71,142.61 L364.39,141.06 L363.94,139.51 L363.37,137.97 L362.68,136.44 L361.87,134.92 L360.95,133.42 L359.90,131.93 L358.75,130.46 L357.47,129.01 L356.09,127.57 L354.59,126.17 L352.98,124.78 L351.27,123.42 L349.45,122.09 L347.52,120.79 L345.50,119.52 L343.38,118.28 L341.16,117.07 L338.85,115.90 L336.45,114.77 L333.96,113.67 L331.39,112.62 L328.73,111.61 L326.00,110.63 L323.20,109.70 L320.32,108.82 L317.38,107.98 L314.37,107.19 L311.30,106.44 L308.18,105.75 L305.00,105.10 L301.77,104.50 L298.50,103.96 L295.19,103.46 L291.84,103.02 L288.46,102.63 L285.05,102.29 L281.62,102.01 L278.17,101.78 L274.70,101.60 L271.22,101.48 L267.73,101.41 L264.24,101.40 L260.75,101.44 L257.26,101.54 L253.79,101.69 L250.33,101.90 L246.88,102.16 L243.46,102.47 L240.07,102.84 L236.71,103.26 L233.38,103.73 L230.09,104.25 L226.84,104.83 L223.64,105.45 L220.50,106.12 L217.40,106.85 L214.37,107.62 L211.39,108.44 L208.49,109.30 L205.65,110.21 L202.88,111.16 L200.20,112.16 L197.59,113.20 L195.06,114.27 L192.62,115.39 L190.27,116.54 L188.01,117.73 L185.84,118.95 L183.77,120.21 L181.81,121.50 L179.94,122.82 L178.18,124.17 L176.52,125.54 L174.97,126.94 L173.54,128.36 L172.21,129.80 L171.00,131.27 L169.91,132.75 L168.93,134.25 L168.07,135.76 L167.32,137.28 L166.70,138.82 L166.20,140.36 L165.82,141.91 L165.56,143.47 L165.42,145.03 L165.41,143.59 L165.52,145.15 L165.75,146.71 L166.10,148.26 L166.57,149.80 L167.16,151.34 L167.87,152.87 L168.71,154.39 L169.66,155.89 L170.72,157.37 L171.91,158.84 L173.20,160.29 L174.61,161.72 L176.13,163.12 L177.76,164.50 L179.50,165.85 L181.34,167.18 L183.28,168.48 L185.33,169.74 L187.47,170.97 L189.71,172.17 L192.04,173.33 L194.46,174.46 L196.96,175.55 L199.55,176.59 L202.22,177.60 L204.97,178.56 L207.79,179.48 L210.68,180.36 L213.64,181.19 L216.66,181.97 L219.74,182.70 L222.87,183.39 L226.06,184.03 L229.29,184.61 L232.57,185.15 L235.89,185.63 L239.25,186.07 L242.63,186.44 L246.05,186.77 L249.49,187.04 L252.94,187.26 L256.41,187.43 L259.90,187.54 L263.39,187.59 L266.88,187.59 L270.37,187.54 L273.85,187.43 L277.32,187.27 L280.78,187.05 L284.22,186.78 L287.63,186.46 L291.02,186.08 L294.38,185.65 Z" fill="#fff" stroke="none"/>
<g fill="none" stroke="#3a3a3a" stroke-width="0.85">
<path d="M296.43,188.90 L292.83,189.37 L289.21,189.77 L285.55,190.12 L281.87,190.41 L278.17,190.64 L274.46,190.82 L270.73,190.94 L267.00,190.99 L263.26,190.99 L259.53,190.93 L255.80,190.81 L252.08,190.64 L248.38,190.40 L244.70,190.11 L241.05,189.76 L237.43,189.35 L233.84,188.88 L230.28,188.36 L226.78,187.79 L223.31,187.15 L219.90,186.47 L216.55,185.73 L213.25,184.94 L210.02,184.10 L206.85,183.20 L203.76,182.26 L200.74,181.27 L197.80,180.24 L194.95,179.15 L192.18,178.03 L189.49,176.86 L186.91,175.65 L184.41,174.40 L182.02,173.11 L179.73,171.78 L177.54,170.42 L175.46,169.02 L173.49,167.60 L171.63,166.14 L169.89,164.65 L168.26,163.14 L166.75,161.61 L165.36,160.05 L164.10,158.47 L162.96,156.87 L161.94,155.25 L161.05,153.62 L160.28,151.98 L159.65,150.32 L159.14,148.66 L158.77,146.99 L158.52,145.31 L158.41,143.63 L158.43,141.96 L158.57,140.28 L158.85,138.60 L159.26,136.93 L159.79,135.27 L160.46,133.62 L161.25,131.98 L162.17,130.35 L163.22,128.74 L164.39,127.14 L165.69,125.57 L167.11,124.02 L168.65,122.49 L170.30,120.98 L172.07,119.50 L173.96,118.05 L175.96,116.63 L178.06,115.25 L180.28,113.89 L182.59,112.58 L185.01,111.30 L187.53,110.05 L190.14,108.85 L192.84,107.69 L195.64,106.58 L198.51,105.51 L201.47,104.48 L204.51,103.50 L207.62,102.57 L210.80,101.69 L214.05,100.86 L217.36,100.08 L220.73,99.36 L224.15,98.69 L227.63,98.07 L231.15,97.51 L234.71,97.00 L238.31,96.55 L241.94,96.15 L245.60,95.82 L249.28,95.54 L252.99,95.31 L256.71,95.15 L260.44,95.05 L264.17,95.00 L267.91,95.02 L271.64,95.09 L275.37,95.22 L279.08,95.41 L282.77,95.65 L286.45,95.96 L290.10,96.32 L293.71,96.74 L297.30,97.22 L300.84,97.75 L304.34,98.34 L307.79,98.98 L311.19,99.68 L314.53,100.43 L317.82,101.23 L321.04,102.08 L324.19,102.99 L327.27,103.94 L330.27,104.94 L333.19,105.98 L336.03,107.07 L338.78,108.21 L341.44,109.39 L344.01,110.61 L346.49,111.87 L348.86,113.16 L351.13,114.50 L353.30,115.86 L355.35,117.27 L357.30,118.70 L359.14,120.16 L360.86,121.65 L362.46,123.17 L363.94,124.71 L365.31,126.27 L366.55,127.86 L367.66,129.46 L368.65,131.08 L369.52,132.71 L370.26,134.36 L370.86,136.02 L371.34,137.68 L371.69,139.35 L371.91,141.03 L372.00,142.71 L371.96,144.39 L371.78,146.07 L371.48,147.74 L371.04,149.41 L370.48,151.07 L369.79,152.72 L368.97,154.36 L368.02,155.98 L366.95,157.59 L365.75,159.18 L364.43,160.75 L362.99,162.30 L361.42,163.83 L359.74,165.33 L357.95,166.80 L356.04,168.24 L354.02,169.65 L351.89,171.03 L349.66,172.38 L347.32,173.69 L344.88,174.96 L342.34,176.20 L339.71,177.39 L336.99,178.54 L334.18,179.64 L331.29,180.71 L328.31,181.72 L325.26,182.69 L322.13,183.61 L318.94,184.48 L315.68,185.30 L312.35,186.07"/>
<path d="M294.38,185.65 L291.02,186.08 L287.63,186.46 L284.22,186.78 L280.78,187.05 L277.32,187.27 L273.85,187.43 L270.37,187.54 L266.88,187.59 L263.39,187.59 L259.90,187.54 L256.41,187.43 L252.94,187.26 L249.49,187.04 L246.05,186.77 L242.63,186.44 L239.25,186.07 L235.89,185.63 L232.57,185.15 L229.29,184.61 L226.06,184.03 L222.87,183.39 L219.74,182.70 L216.66,181.97 L213.64,181.19 L210.68,180.36 L207.79,179.48 L204.97,178.56 L202.22,177.60 L199.55,176.59 L196.96,175.55 L194.46,174.46 L192.04,173.33 L189.71,172.17 L187.47,170.97 L185.33,169.74 L183.28,168.48 L181.34,167.18 L179.50,165.85 L177.76,164.50 L176.13,163.12 L174.61,161.72 L173.20,160.29 L171.91,158.84 L170.72,157.37 L169.66,155.89 L168.71,154.39 L167.87,152.87 L167.16,151.34 L166.57,149.80 L166.10,148.26 L165.75,146.71 L165.52,145.15 L165.41,143.59 L165.42,142.03 L165.56,140.47 L165.82,138.91 L166.20,137.36 L166.70,135.82 L167.32,134.28 L168.07,132.76 L168.93,131.25 L169.91,129.75 L171.00,128.27 L172.21,126.80 L173.54,125.36 L174.97,123.94 L176.52,122.54 L178.18,121.17 L179.94,119.82 L181.81,118.50 L183.77,117.21 L185.84,115.95 L188.01,114.73 L190.27,113.54 L192.62,112.39 L195.06,111.27 L197.59,110.20 L200.20,109.16 L202.88,108.16 L205.65,107.21 L208.49,106.30 L211.39,105.44 L214.37,104.62 L217.40,103.85 L220.50,103.12 L223.64,102.45 L226.84,101.83 L230.09,101.25 L233.38,100.73 L236.71,100.26 L240.07,99.84 L243.46,99.47 L246.88,99.16 L250.33,98.90 L253.79,98.69 L257.26,98.54 L260.75,98.44 L264.24,98.40 L267.73,98.41 L271.22,98.48 L274.70,98.60 L278.17,98.78 L281.62,99.01 L285.05,99.29 L288.46,99.63 L291.84,100.02 L295.19,100.46 L298.50,100.96 L301.77,101.50 L305.00,102.10 L308.18,102.75 L311.30,103.44 L314.37,104.19 L317.38,104.98 L320.32,105.82 L323.20,106.70 L326.00,107.63 L328.73,108.61 L331.39,109.62 L333.96,110.67 L336.45,111.77 L338.85,112.90 L341.16,114.07 L343.38,115.28 L345.50,116.52 L347.52,117.79 L349.45,119.09 L351.27,120.42 L352.98,121.78 L354.59,123.17 L356.09,124.57 L357.47,126.01 L358.75,127.46 L359.90,128.93 L360.95,130.42 L361.87,131.92 L362.68,133.44 L363.37,134.97 L363.94,136.51 L364.39,138.06 L364.71,139.61 L364.92,141.17 L365.00,142.73 L364.96,144.29 L364.80,145.85 L364.51,147.40 L364.11,148.95 L363.58,150.50 L362.93,152.03 L362.17,153.55 L361.28,155.06 L360.28,156.56 L359.16,158.03 L357.92,159.49 L356.58,160.93 L355.12,162.35 L353.55,163.74 L351.87,165.11 L350.09,166.45 L348.20,167.77 L346.21,169.05 L344.12,170.30 L341.94,171.52 L339.66,172.70 L337.29,173.84 L334.83,174.95 L332.28,176.02 L329.66,177.05 L326.95,178.04 L324.17,178.98 L321.32,179.88 L318.40,180.73 L315.42,181.54 L312.37,182.30 L309.26,183.02"/>
<path d="M296.43,191.90 L292.81,192.37 L289.16,192.78 L285.48,193.13 L281.78,193.42 L278.05,193.65 L274.31,193.83 L270.56,193.94 L266.80,193.99 L263.04,193.99 L259.28,193.93 L255.53,193.80 L251.79,193.62 L248.07,193.38 L244.36,193.08 L240.69,192.72 L237.04,192.30 L233.43,191.83 L229.86,191.30 L226.34,190.71 L222.86,190.07 L219.43,189.37 L216.06,188.62 L212.75,187.81 L209.51,186.96 L206.34,186.05 L203.24,185.09 L200.21,184.09 L197.27,183.04 L194.41,181.94 L191.64,180.80 L188.95,179.61 L186.37,178.38 L183.88,177.12 L181.49,175.81 L179.21,174.47 L177.03,173.09 L174.97,171.68 L173.01,170.23 L171.17,168.76 L169.44,167.26 L167.84,165.73 L166.35,164.18 L164.99,162.60 L163.75,161.00 L162.64,159.39 L161.65,157.76 L160.80,156.11 L160.07,154.45 L159.47,152.78 L159.01,151.11 L158.67,149.42 L158.47,147.73 L158.40,146.04 L158.46,144.35 L158.66,142.67 L158.99,140.98"/>
<path d="M165.95,150.66 L165.64,149.11 L165.46,147.56 L165.40,146.00 L165.46,144.44 L165.64,142.89 L165.95,141.34 L166.37,139.79 L166.92,138.26 L167.58,136.73 L168.36,135.21 L169.27,133.71 L170.28,132.22 L171.42,130.75 L172.67,129.29 L174.03,127.86 L175.50,126.45 L177.08,125.06 L178.77,123.70 L180.56,122.37 L182.46,121.06 L184.46,119.78 L186.56,118.54 L188.75,117.33 L191.03,116.16 L193.41,115.02 L195.87,113.92 L198.42,112.86 L201.05,111.83 L203.76,110.85 L206.54,109.92 L209.39,109.02 L212.31,108.18 L215.30,107.38 L218.35,106.62 L221.45,105.91 L224.61,105.26 L227.81,104.65 L231.07,104.09 L234.36,103.58 L237.69,103.13 L241.06,102.72 L244.45,102.37 L247.87,102.08 L251.31,101.83 L254.77,101.64 L258.24,101.51 L261.72,101.43 L265.20,101.40 L268.68,101.43 L272.16,101.51 L275.63,101.64 L279.09,101.83 L282.53,102.08 L285.95,102.37 L289.34,102.72 L292.71,103.13 L296.04,103.58 L299.33,104.09 L302.59,104.65 L305.79,105.26 L308.95,105.91 L312.05,106.62 L315.10,107.38 L318.09,108.18 L321.01,109.02 L323.86,109.92 L326.64,110.85 L329.35,111.83 L331.98,112.86 L334.53,113.92 L336.99,115.02 L339.37,116.16 L341.65,117.33 L343.84,118.54 L345.94,119.78 L347.94,121.06 L349.84,122.37 L351.63,123.70 L353.32,125.06 L354.90,126.45 L356.37,127.86 L357.73,129.29 L358.98,130.75 L360.12,132.22 L361.13,133.71 L362.04,135.21 L362.82,136.73 L363.48,138.26 L364.03,139.79 L364.45,141.34 L364.76,142.89 L364.94,144.44 L365.00,146.00 L364.94,147.56 L364.76,149.11 L364.45,150.66"/>
<path d="M371.41,140.98 L371.75,142.70 L371.94,144.41 L372.00,146.13 L371.92,147.85 L371.70,149.57 L371.35,151.28 L370.86,152.99 L370.24,154.68 L369.48,156.37 L368.58,158.04 L367.56,159.70 L366.40,161.34 L365.11,162.96 L363.70,164.56 L362.16,166.13 L360.49,167.68 L358.70,169.20 L356.79,170.69 L354.76,172.15 L352.62,173.57 L350.37,174.96 L348.01,176.31 L345.54,177.63 L342.96,178.90 L340.29,180.13 L337.52,181.32 L334.66,182.46 L331.71,183.56 L328.67,184.60 L325.56,185.60 L322.36,186.55 L319.09,187.44 L315.76,188.28 L312.35,189.07"/>
<path d="M296.43,188.90 L294.38,185.65 L294.38,188.65 L296.43,191.90 Z" fill="#fff"/>
<path d="M312.35,186.07 L309.26,183.02 L309.26,186.02 L312.35,189.07 Z" fill="#fff"/>
</g>
<path d="M234.36,44.10 L237.94,43.64 L241.54,43.23 L245.18,42.88 L248.84,42.59 L252.52,42.36 L256.22,42.18 L259.93,42.07 L263.64,42.01 L267.36,42.01 L271.07,42.07 L274.78,42.18 L278.48,42.36 L282.16,42.59 L285.82,42.88 L289.46,43.23 L293.06,43.64 L296.64,44.10 L300.17,44.62 L303.67,45.19 L307.11,45.82 L310.51,46.50 L313.85,47.23 L317.13,48.02 L320.35,48.86 L323.50,49.74 L326.59,50.68 L329.59,51.67 L332.52,52.70 L335.37,53.77 L338.13,54.90 L340.81,56.06 L343.39,57.26 L345.88,58.51 L348.27,59.79 L350.55,61.11 L352.74,62.47 L354.82,63.86 L356.79,65.28 L358.65,66.73 L360.39,68.21 L362.02,69.71 L363.53,71.24 L364.93,72.80 L366.20,74.37 L367.35,75.97 L368.37,77.58 L369.27,79.20 L370.04,80.84 L370.69,82.49 L371.21,84.15 L371.59,85.82 L371.85,87.49 L371.98,89.16 L371.98,93.44 L371.85,95.11 L371.59,96.78 L371.21,98.45 L370.69,100.11 L370.04,101.76 L369.27,103.40 L368.37,105.02 L367.35,106.63 L366.20,108.23 L364.93,109.80 L363.53,111.36 L362.02,112.89 L360.39,114.39 L358.65,115.87 L356.79,117.32 L354.82,118.74 L352.74,120.13 L350.55,121.49 L348.27,122.81 L345.88,124.09 L343.39,125.34 L340.81,126.54 L338.13,127.70 L335.37,128.83 L332.52,129.90 L329.59,130.93 L326.59,131.92 L323.50,132.86 L320.35,133.74 L317.13,134.58 L313.85,135.37 L310.51,136.10 L307.11,136.78 L303.67,137.41 L300.17,137.98 L296.64,138.50 L293.06,138.96 L289.46,139.37 L285.82,139.72 L282.16,140.01 L278.48,140.24 L274.78,140.42 L271.07,140.53 L267.36,140.59 L263.64,140.59 L259.93,140.53 L256.22,140.42 L252.52,140.24 L248.84,140.01 L245.18,139.72 L241.54,139.37 L237.94,138.96 L234.36,138.50 L230.83,137.98 L227.33,137.41 L223.89,136.78 L220.49,136.10 L217.15,135.37 L213.87,134.58 L210.65,133.74 L207.50,132.86 L204.41,131.92 L201.41,130.93 L198.48,129.90 L195.63,128.83 L192.87,127.70 L190.19,126.54 L187.61,125.34 L185.12,124.09 L182.73,122.81 L180.45,121.49 L178.26,120.13 L176.18,118.74 L174.21,117.32 L172.35,115.87 L170.61,114.39 L168.98,112.89 L167.47,111.36 L166.07,109.80 L164.80,108.23 L163.65,106.63 L162.63,105.02 L161.73,103.40 L160.96,101.76 L160.31,100.11 L159.79,98.45 L159.41,96.78 L159.15,95.11 L159.02,93.44 L159.02,89.16 L159.15,87.49 L159.41,85.82 L159.79,84.15 L160.31,82.49 L160.96,80.84 L161.73,79.20 L162.63,77.58 L163.65,75.97 L164.80,74.37 L166.07,72.80 L167.47,71.24 L168.98,69.71 L170.61,68.21 L172.35,66.73 L174.21,65.28 L176.18,63.86 L178.26,62.47 L180.45,61.11 L182.73,59.79 L185.12,58.51 L187.61,57.26 L190.19,56.06 L192.87,54.90 L195.63,53.77 L198.48,52.70 L201.41,51.67 L204.41,50.68 L207.50,49.74 L210.65,48.86 L213.87,48.02 L217.36,53.42 L214.36,54.20 L211.42,55.03 L208.54,55.90 L205.74,56.82 L203.01,57.78 L200.35,58.79 L197.78,59.84 L195.28,60.92 L192.88,62.05 L190.56,63.21 L188.33,64.41 L186.20,65.64 L184.16,66.90 L182.22,68.20 L180.38,69.53 L178.65,70.88 L177.02,72.26 L175.50,73.67 L174.09,75.10 L172.80,76.55 L171.61,78.01 L170.54,79.50 L169.58,81.00 L168.75,82.52 L168.02,84.05 L167.42,85.59 L166.94,87.14 L166.58,88.70 L166.34,90.26 L166.22,91.82 L166.22,90.78 L166.34,92.34 L166.58,93.90 L166.94,95.46 L167.42,97.01 L168.02,98.55 L168.75,100.08 L169.58,101.60 L170.54,103.10 L171.61,104.59 L172.80,106.05 L174.09,107.50 L175.50,108.93 L177.02,110.34 L178.65,111.72 L180.38,113.07 L182.22,114.40 L184.16,115.70 L186.20,116.96 L188.33,118.19 L190.56,119.39 L192.88,120.55 L195.28,121.68 L197.78,122.76 L200.35,123.81 L203.01,124.82 L205.74,125.78 L208.54,126.70 L211.42,127.57 L214.36,128.40 L217.36,129.18 L220.42,129.92 L223.53,130.60 L226.70,131.24 L229.91,131.82 L233.17,132.36 L236.47,132.84 L239.80,133.27 L243.16,133.65 L246.55,133.98 L249.97,134.25 L253.40,134.47 L256.85,134.63 L260.30,134.74 L263.77,134.79 L267.23,134.79 L270.70,134.74 L274.15,134.63 L277.60,134.47 L281.03,134.25 L284.45,133.98 L287.84,133.65 L291.20,133.27 L294.53,132.84 L297.83,132.36 L301.09,131.82 L304.30,131.24 L307.47,130.60 L310.58,129.92 L313.64,129.18 L316.64,128.40 L319.58,127.57 L322.46,126.70 L325.26,125.78 L327.99,124.82 L330.65,123.81 L333.22,122.76 L335.72,121.68 L338.12,120.55 L340.44,119.39 L342.67,118.19 L344.80,116.96 L346.84,115.70 L348.78,114.40 L350.62,113.07 L352.35,111.72 L353.98,110.34 L355.50,108.93 L356.91,107.50 L358.20,106.05 L359.39,104.59 L360.46,103.10 L361.42,101.60 L362.25,100.08 L362.98,98.55 L363.58,97.01 L364.06,95.46 L364.42,93.90 L364.66,92.34 L364.78,90.78 L364.78,91.82 L364.66,90.26 L364.42,88.70 L364.06,87.14 L363.58,85.59 L362.98,84.05 L362.25,82.52 L361.42,81.00 L360.46,79.50 L359.39,78.01 L358.20,76.55 L356.91,75.10 L355.50,73.67 L353.98,72.26 L352.35,70.88 L350.62,69.53 L348.78,68.20 L346.84,66.90 L344.80,65.64 L342.67,64.41 L340.44,63.21 L338.12,62.05 L335.72,60.92 L333.22,59.84 L330.65,58.79 L327.99,57.78 L325.26,56.82 L322.46,55.90 L319.58,55.03 L316.64,54.20 L313.64,53.42 L310.58,52.68 L307.47,52.00 L304.30,51.36 L301.09,50.78 L297.83,50.24 L294.53,49.76 L291.20,49.33 L287.84,48.95 L284.45,48.62 L281.03,48.35 L277.60,48.13 L274.15,47.97 L270.70,47.86 L267.23,47.81 L263.77,47.81 L260.30,47.86 L256.85,47.97 L253.40,48.13 L249.97,48.35 L246.55,48.62 L243.16,48.95 L239.80,49.33 L236.47,49.76 Z" fill="#fff" stroke="none"/>
<g fill="none" stroke="#3a3a3a" stroke-width="0.85">
<path d="M234.36,44.10 L237.94,43.64 L241.54,43.23 L245.18,42.88 L248.84,42.59 L252.52,42.36 L256.22,42.18 L259.93,42.07 L263.64,42.01 L267.36,42.01 L271.07,42.07 L274.78,42.18 L278.48,42.36 L282.16,42.59 L285.82,42.88 L289.46,43.23 L293.06,43.64 L296.64,44.10 L300.17,44.62 L303.67,45.19 L307.11,45.82 L310.51,46.50 L313.85,47.23 L317.13,48.02 L320.35,48.86 L323.50,49.74 L326.59,50.68 L329.59,51.67 L332.52,52.70 L335.37,53.77 L338.13,54.90 L340.81,56.06 L343.39,57.26 L345.88,58.51 L348.27,59.79 L350.55,61.11 L352.74,62.47 L354.82,63.86 L356.79,65.28 L358.65,66.73 L360.39,68.21 L362.02,69.71 L363.53,71.24 L364.93,72.80 L366.20,74.37 L367.35,75.97 L368.37,77.58 L369.27,79.20 L370.04,80.84 L370.69,82.49 L371.21,84.15 L371.59,85.82 L371.85,87.49 L371.98,89.16 L371.98,90.84 L371.85,92.51 L371.59,94.18 L371.21,95.85 L370.69,97.51 L370.04,99.16 L369.27,100.80 L368.37,102.42 L367.35,104.03 L366.20,105.63 L364.93,107.20 L363.53,108.76 L362.02,110.29 L360.39,111.79 L358.65,113.27 L356.79,114.72 L354.82,116.14 L352.74,117.53 L350.55,118.89 L348.27,120.21 L345.88,121.49 L343.39,122.74 L340.81,123.94 L338.13,125.10 L335.37,126.23 L332.52,127.30 L329.59,128.33 L326.59,129.32 L323.50,130.26 L320.35,131.14 L317.13,131.98 L313.85,132.77 L310.51,133.50 L307.11,134.18 L303.67,134.81 L300.17,135.38 L296.64,135.90 L293.06,136.36 L289.46,136.77 L285.82,137.12 L282.16,137.41 L278.48,137.64 L274.78,137.82 L271.07,137.93 L267.36,137.99 L263.64,137.99 L259.93,137.93 L256.22,137.82 L252.52,137.64 L248.84,137.41 L245.18,137.12 L241.54,136.77 L237.94,136.36 L234.36,135.90 L230.83,135.38 L227.33,134.81 L223.89,134.18 L220.49,133.50 L217.15,132.77 L213.87,131.98 L210.65,131.14 L207.50,130.26 L204.41,129.32 L201.41,128.33 L198.48,127.30 L195.63,126.23 L192.87,125.10 L190.19,123.94 L187.61,122.74 L185.12,121.49 L182.73,120.21 L180.45,118.89 L178.26,117.53 L176.18,116.14 L174.21,114.72 L172.35,113.27 L170.61,111.79 L168.98,110.29 L167.47,108.76 L166.07,107.20 L164.80,105.63 L163.65,104.03 L162.63,102.42 L161.73,100.80 L160.96,99.16 L160.31,97.51 L159.79,95.85 L159.41,94.18 L159.15,92.51 L159.02,90.84 L159.02,89.16 L159.15,87.49 L159.41,85.82 L159.79,84.15 L160.31,82.49 L160.96,80.84 L161.73,79.20 L162.63,77.58 L163.65,75.97 L164.80,74.37 L166.07,72.80 L167.47,71.24 L168.98,69.71 L170.61,68.21 L172.35,66.73 L174.21,65.28 L176.18,63.86 L178.26,62.47 L180.45,61.11 L182.73,59.79 L185.12,58.51 L187.61,57.26 L190.19,56.06 L192.87,54.90 L195.63,53.77 L198.48,52.70 L201.41,51.67 L204.41,50.68 L207.50,49.74 L210.65,48.86 L213.87,48.02"/>
<path d="M236.47,47.16 L239.80,46.73 L243.16,46.35 L246.55,46.02 L249.97,45.75 L253.40,45.53 L256.85,45.37 L260.30,45.26 L263.77,45.21 L267.23,45.21 L270.70,45.26 L274.15,45.37 L277.60,45.53 L281.03,45.75 L284.45,46.02 L287.84,46.35 L291.20,46.73 L294.53,47.16 L297.83,47.64 L301.09,48.18 L304.30,48.76 L307.47,49.40 L310.58,50.08 L313.64,50.82 L316.64,51.60 L319.58,52.43 L322.46,53.30 L325.26,54.22 L327.99,55.18 L330.65,56.19 L333.22,57.24 L335.72,58.32 L338.12,59.45 L340.44,60.61 L342.67,61.81 L344.80,63.04 L346.84,64.30 L348.78,65.60 L350.62,66.93 L352.35,68.28 L353.98,69.66 L355.50,71.07 L356.91,72.50 L358.20,73.95 L359.39,75.41 L360.46,76.90 L361.42,78.40 L362.25,79.92 L362.98,81.45 L363.58,82.99 L364.06,84.54 L364.42,86.10 L364.66,87.66 L364.78,89.22 L364.78,90.78 L364.66,92.34 L364.42,93.90 L364.06,95.46 L363.58,97.01 L362.98,98.55 L362.25,100.08 L361.42,101.60 L360.46,103.10 L359.39,104.59 L358.20,106.05 L356.91,107.50 L355.50,108.93 L353.98,110.34 L352.35,111.72 L350.62,113.07 L348.78,114.40 L346.84,115.70 L344.80,116.96 L342.67,118.19 L340.44,119.39 L338.12,120.55 L335.72,121.68 L333.22,122.76 L330.65,123.81 L327.99,124.82 L325.26,125.78 L322.46,126.70 L319.58,127.57 L316.64,128.40 L313.64,129.18 L310.58,129.92 L307.47,130.60 L304.30,131.24 L301.09,131.82 L297.83,132.36 L294.53,132.84 L291.20,133.27 L287.84,133.65 L284.45,133.98 L281.03,134.25 L277.60,134.47 L274.15,134.63 L270.70,134.74 L267.23,134.79 L263.77,134.79 L260.30,134.74 L256.85,134.63 L253.40,134.47 L249.97,134.25 L246.55,133.98 L243.16,133.65 L239.80,133.27 L236.47,132.84 L233.17,132.36 L229.91,131.82 L226.70,131.24 L223.53,130.60 L220.42,129.92 L217.36,129.18 L214.36,128.40 L211.42,127.57 L208.54,126.70 L205.74,125.78 L203.01,124.82 L200.35,123.81 L197.78,122.76 L195.28,121.68 L192.88,120.55 L190.56,119.39 L188.33,118.19 L186.20,116.96 L184.16,115.70 L182.22,114.40 L180.38,113.07 L178.65,111.72 L177.02,110.34 L175.50,108.93 L174.09,107.50 L172.80,106.05 L171.61,104.59 L170.54,103.10 L169.58,101.60 L168.75,100.08 L168.02,98.55 L167.42,97.01 L166.94,95.46 L166.58,93.90 L166.34,92.34 L166.22,90.78 L166.22,89.22 L166.34,87.66 L166.58,86.10 L166.94,84.54 L167.42,82.99 L168.02,81.45 L168.75,79.92 L169.58,78.40 L170.54,76.90 L171.61,75.41 L172.80,73.95 L174.09,72.50 L175.50,71.07 L177.02,69.66 L178.65,68.28 L180.38,66.93 L182.22,65.60 L184.16,64.30 L186.20,63.04 L188.33,61.81 L190.56,60.61 L192.88,59.45 L195.28,58.32 L197.78,57.24 L200.35,56.19 L203.01,55.18 L205.74,54.22 L208.54,53.30 L211.42,52.43 L214.36,51.60 L217.36,50.82"/>
<path d="M236.47,48.59 L239.83,48.15 L243.22,47.77 L246.64,47.45 L250.09,47.17 L253.55,46.96 L257.03,46.79 L260.52,46.69 L264.01,46.64 L267.51,46.64 L271.01,46.70 L274.49,46.81 L277.97,46.98 L281.43,47.21 L284.87,47.49 L288.29,47.83 L291.68,48.21 L295.04,48.66 L298.36,49.15 L301.63,49.70 L304.87,50.30 L308.05,50.95 L311.19,51.65 L314.26,52.40 L317.28,53.20 L320.23,54.05 L323.11,54.94 L325.93,55.88 L328.66,56.86 L331.32,57.89 L333.90,58.95 L336.39,60.06 L338.80,61.20 L341.11,62.39 L343.33,63.61 L345.45,64.86 L347.48,66.15 L349.40,67.47 L351.22,68.81 L352.93,70.19 L354.53,71.59 L356.03,73.02 L357.41,74.47 L358.67,75.94 L359.82,77.43 L360.86,78.93 L361.78,80.46 L362.57,81.99 L363.25,83.54 L363.80,85.10 L364.24,86.66 L364.55,88.24 L364.74,89.81 L364.80,91.39 L364.74,92.97 L364.56,94.54 L364.26,96.11" stroke="#b4b4b4" stroke-width="2.21"/>
<path d="M236.47,47.16 L239.83,46.72 L243.22,46.34 L246.64,46.02 L250.09,45.74 L253.55,45.53 L257.03,45.36 L260.52,45.26 L264.01,45.21 L267.51,45.21 L271.01,45.27 L274.49,45.38 L277.97,45.55 L281.43,45.78 L284.87,46.06 L288.29,46.40 L291.68,46.78 L295.04,47.23 L298.36,47.72 L301.63,48.27 L304.87,48.87 L308.05,49.52 L311.19,50.22 L314.26,50.97 L317.28,51.77 L320.23,52.62 L323.11,53.51 L325.93,54.45 L328.66,55.43 L331.32,56.46 L333.90,57.52 L336.39,58.63 L338.80,59.77 L341.11,60.96 L343.33,62.18 L345.45,63.43 L347.48,64.72 L349.40,66.04 L351.22,67.38 L352.93,68.76 L354.53,70.16 L356.03,71.59 L357.41,73.04 L358.67,74.51 L359.82,76.00 L360.86,77.50 L361.78,79.03 L362.57,80.56 L363.25,82.11 L363.80,83.67 L364.24,85.23 L364.55,86.81 L364.74,88.38 L364.80,89.96 L364.74,91.54 L364.56,93.11 L364.26,94.68"/>
<path d="M371.42,87.58 L371.74,89.25 L371.94,90.92 L372.00,92.60 L371.94,94.28 L371.74,95.95 L371.42,97.62 L370.96,99.28 L370.38,100.94 L369.67,102.58 L368.84,104.21 L367.87,105.83 L366.79,107.43 L365.58,109.02 L364.25,110.58 L362.79,112.12 L361.22,113.64 L359.53,115.13 L357.73,116.60 L355.82,118.04 L353.79,119.44 L351.66,120.81 L349.42,122.15 L347.08,123.45 L344.64,124.72 L342.11,125.94 L339.48,127.13 L336.76,128.27 L333.96,129.37 L331.07,130.42 L328.10,131.43 L325.05,132.39 L321.94,133.31 L318.75,134.17 L315.50,134.98 L312.19,135.74 L308.82,136.45 L305.40,137.10 L301.93,137.71 L298.41,138.25 L294.86,138.74 L291.26,139.17 L287.64,139.55 L283.99,139.87 L280.32,140.13 L276.63,140.34 L272.93,140.48 L269.22,140.57 L265.50,140.60 L261.78,140.57 L258.07,140.48 L254.37,140.34 L250.68,140.13 L247.01,139.87 L243.36,139.55 L239.74,139.17 L236.14,138.74 L232.59,138.25 L229.07,137.71 L225.60,137.10 L222.18,136.45 L218.81,135.74 L215.50,134.98 L212.25,134.17 L209.06,133.31 L205.95,132.39 L202.90,131.43 L199.93,130.42 L197.04,129.37 L194.24,128.27 L191.52,127.13 L188.89,125.94 L186.36,124.72 L183.92,123.45 L181.58,122.15 L179.34,120.81 L177.21,119.44 L175.18,118.04 L173.27,116.60 L171.47,115.13 L169.78,113.64 L168.21,112.12 L166.75,110.58 L165.42,109.02 L164.21,107.43 L163.13,105.83 L162.16,104.21 L161.33,102.58 L160.62,100.94 L160.04,99.28 L159.58,97.62 L159.26,95.95 L159.06,94.28 L159.00,92.60 L159.06,90.92 L159.26,89.25 L159.58,87.58"/>
<path d="M166.74,96.11 L166.44,94.53 L166.26,92.95 L166.20,91.36 L166.27,89.77 L166.46,88.19 L166.78,86.61 L167.22,85.03 L167.78,83.46 L168.47,81.91 L169.28,80.36 L170.21,78.83 L171.26,77.32 L172.42,75.82 L173.71,74.34 L175.11,72.88 L176.62,71.45 L178.25,70.04 L179.98,68.66 L181.82,67.31 L183.77,65.99 L185.82,64.70 L187.97,63.44 L190.21,62.22 L192.56,61.03 L194.99,59.89 L197.51,58.78 L200.12,57.71 L202.80,56.69 L205.57,55.71 L208.41,54.77 L211.33,53.88 L214.31,53.04 L217.36,52.25" stroke="#b4b4b4" stroke-width="2.21"/>
<path d="M166.74,94.68 L166.44,93.10 L166.26,91.52 L166.20,89.93 L166.27,88.34 L166.46,86.76 L166.78,85.18 L167.22,83.60 L167.78,82.03 L168.47,80.48 L169.28,78.93 L170.21,77.40 L171.26,75.89 L172.42,74.39 L173.71,72.91 L175.11,71.45 L176.62,70.02 L178.25,68.61 L179.98,67.23 L181.82,65.88 L183.77,64.56 L185.82,63.27 L187.97,62.01 L190.21,60.79 L192.56,59.60 L194.99,58.46 L197.51,57.35 L200.12,56.28 L202.80,55.26 L205.57,54.28 L208.41,53.34 L211.33,52.45 L214.31,51.61 L217.36,50.82"/>
<path d="M234.36,44.10 L236.47,47.16 L236.47,49.76 L234.36,46.70 Z" fill="#fff"/>
<path d="M213.87,48.02 L217.36,50.82 L217.36,53.42 L213.87,50.62 Z" fill="#fff"/>
</g>

<path d="M366.3,89.6 L369.8,89.6 M369.8,88.2 L369.8,91 M366.3,92.6 L369.8,92.6 M369.8,92.6 L369.8,94.4 M368.1,92.6 L368.1,94" stroke="#555" stroke-width="0.7" fill="none"/>
<!-- ===== CALLOUTS ===== -->
<g id="callouts" fill="none" stroke="#3a3a3a" stroke-width="0.95">
  <polygon points="381.58,21.57 379.68,26.56 375.80,30.23 370.72,31.86 365.43,31.11 360.99,28.15 358.27,23.55 357.82,18.23 359.72,13.24 363.60,9.57 368.68,7.94 373.97,8.69 378.41,11.65 381.13,16.25"/>
  <line x1="369.6" y1="32" x2="369.6" y2="63"/>
  <polygon points="388.32,93.45 386.52,100.19 382.51,105.91 376.79,109.92 370.05,111.72 363.10,111.12 356.77,108.16 351.84,103.23 348.88,96.90 348.28,89.95 350.08,83.21 354.09,77.49 359.81,73.48 366.55,71.68 373.50,72.28 379.83,75.24 384.76,80.17 387.72,86.50"/>
  <polyline points="371.5,90.6 402.5,90.6 402.5,306.9 354.5,306.9"/>
  <line x1="371" y1="145.2" x2="402.5" y2="145.2"/>
  <line x1="368.5" y1="206.3" x2="402.5" y2="206.3"/>
  <polygon points="592.88,152.67 590.98,157.66 587.10,161.33 582.02,162.96 576.73,162.21 572.29,159.25 569.57,154.65 569.12,149.33 571.02,144.34 574.90,140.67 579.98,139.04 585.27,139.79 589.71,142.75 592.43,147.35"/>
  <polygon points="592.88,188.37 590.98,193.36 587.10,197.03 582.02,198.66 576.73,197.91 572.29,194.95 569.57,190.35 569.12,185.03 571.02,180.04 574.90,176.37 579.98,174.74 585.27,175.49 589.71,178.45 592.43,183.05"/>
  <polygon points="592.88,222.97 590.98,227.96 587.10,231.63 582.02,233.26 576.73,232.51 572.29,229.55 569.57,224.95 569.12,219.63 571.02,214.64 574.90,210.97 579.98,209.34 585.27,210.09 589.71,213.05 592.43,217.65"/>
  <line x1="569" y1="151" x2="520" y2="151"/>
  <line x1="569" y1="186.5" x2="520" y2="186.5"/>
  <line x1="569" y1="220.8" x2="520" y2="220.8"/>
</g>
<g fill="#111" stroke="none">
  <polygon points="366.6,61 372.6,61 369.6,71.5"/>
  <polygon points="512.5,151 522,147.8 522,154.2"/>
  <polygon points="512.5,186.5 522,183.3 522,189.7"/>
  <polygon points="512.5,220.8 522,217.6 522,224"/>
</g>

<!-- ===== SECTION PANEL ===== -->
<g id="panel" fill="none" stroke="#333" stroke-width="1">
  <path d="M506,285 L506,113.4 L442,113.4 C438,116 440,128 446,137 C452,146 454,152 454,162 L454,200 C456,215 462,225 467,232 C472,245 474,262 480,272 C486,281 495,283 506,285"/>
</g>
<g id="sections" stroke="#222" stroke-width="1">
  <path d="M479.5,144.5 L506.5,144.5 Q509.8,147.5 509.8,151 Q509.6,155 506.5,158 L479.5,158 Z" fill="#fff"/>
  <path d="M482.3,145 L506.3,145 Q509.3,147.8 509.3,151 Q509.1,154.8 506.3,157.5 L482.3,157.5 Z" fill="#8c8c8c" stroke="none"/>
  <line x1="482.3" y1="145" x2="482.3" y2="157.5" stroke-width="0.8"/>
  <path d="M479.5,176.8 L507.8,176.8 L507.8,189 Q508.8,190.5 507.8,191.5 L479.5,191.5 Z" fill="#fff"/>
  <path d="M482.2,180.8 L486,177.3 L507.3,177.3 L507.3,191 L482.2,191 Z" fill="#8c8c8c" stroke="none"/>
  <path d="M482.2,191 L482.2,180.8 L486,177.3" fill="none" stroke-width="0.8"/>
  <line x1="480" y1="207.9" x2="506" y2="207.9" fill="none"/>
  <line x1="480" y1="232.5" x2="506" y2="232.5" fill="none"/>
  <path d="M486.5,208.3 L506,208.3 Q511,209 511,212 Q511,215.9 507,215.9 L501.5,215.9 L501.5,224.9 L507,224.9 Q511,225 511,228.5 Q511,232 506,232 L486.5,232 Z" fill="#8c8c8c"/>
  <circle cx="486" cy="220.8" r="3.8" fill="#8c8c8c"/>
  <circle cx="486" cy="220.8" r="2.2" fill="none" stroke-width="0.8"/>
</g>

<!-- ===== DOUBLE ARROW ===== -->
<g id="darrow">
<defs>
<clipPath id="shaftclip"><rect x="389.3" y="340" width="16.8" height="80"/></clipPath>
</defs>
<path d="M398.3,336.3 L411.2,358.3 L406,358.7 L406,419.7 L411.6,421.4 L397,433.4 L384.6,411.2 L389.4,413.5 L389.3,350.5 L384.5,348.4 Z" fill="url(#ag)" stroke="#222" stroke-width="0.9" stroke-linejoin="round"/>
<path d="M398.6,336.6 L411.2,358.3" stroke="#000" stroke-width="2.6" fill="none"/>
<path d="M406,359 L406,419.5" stroke="#000" stroke-width="1.8" fill="none"/>
<path d="M406,420 L411.6,421.4 L397,433.4" stroke="#000" stroke-width="1.6" fill="none" stroke-linejoin="round"/>
<g clip-path="url(#shaftclip)" stroke="#000" fill="none">
<path d="M388,367.5 L408,372.6" stroke-width="2"/>
<path d="M388,376.7 L408,381.8" stroke-width="2"/>
<path d="M388,380.5 L408,385.6" stroke-width="1.8"/>
<path d="M388,383.3 L408,388.4" stroke-width="1.8"/>
<path d="M388,386.2 L408,391.3" stroke-width="1.8"/>
<path d="M388,390.6 L408,395.7" stroke-width="1.8"/>
<path d="M388,397.8 L408,402.9" stroke-width="2"/>
</g>
<path d="M389.3,368 L389.3,399" stroke="#111" stroke-width="1.3" fill="none"/>
</g>

<!-- ===== BORDER ===== -->
<rect x="0" y="0" width="640" height="1" fill="#424242"/>
<rect x="0" y="0" width="1" height="464" fill="#3c3c3c"/>
<rect x="638" y="0" width="2" height="464" fill="#111"/>
<rect x="0" y="462" width="640" height="2" fill="#111"/>
<polygon points="0,423.8 38.4,462.2 0,462.2" fill="#151515"/>
<path d="M7.3,456.2 L10.8,444.4 L14.1,444.4 L17.6,456.2 L15.1,456.2 L14.3,453.4 L10.6,453.4 L9.8,456.2 Z M11.2,451.3 L13.7,451.3 L12.45,446.9 Z" fill="#fff" fill-rule="evenodd"/>
</svg>
</body></html>
